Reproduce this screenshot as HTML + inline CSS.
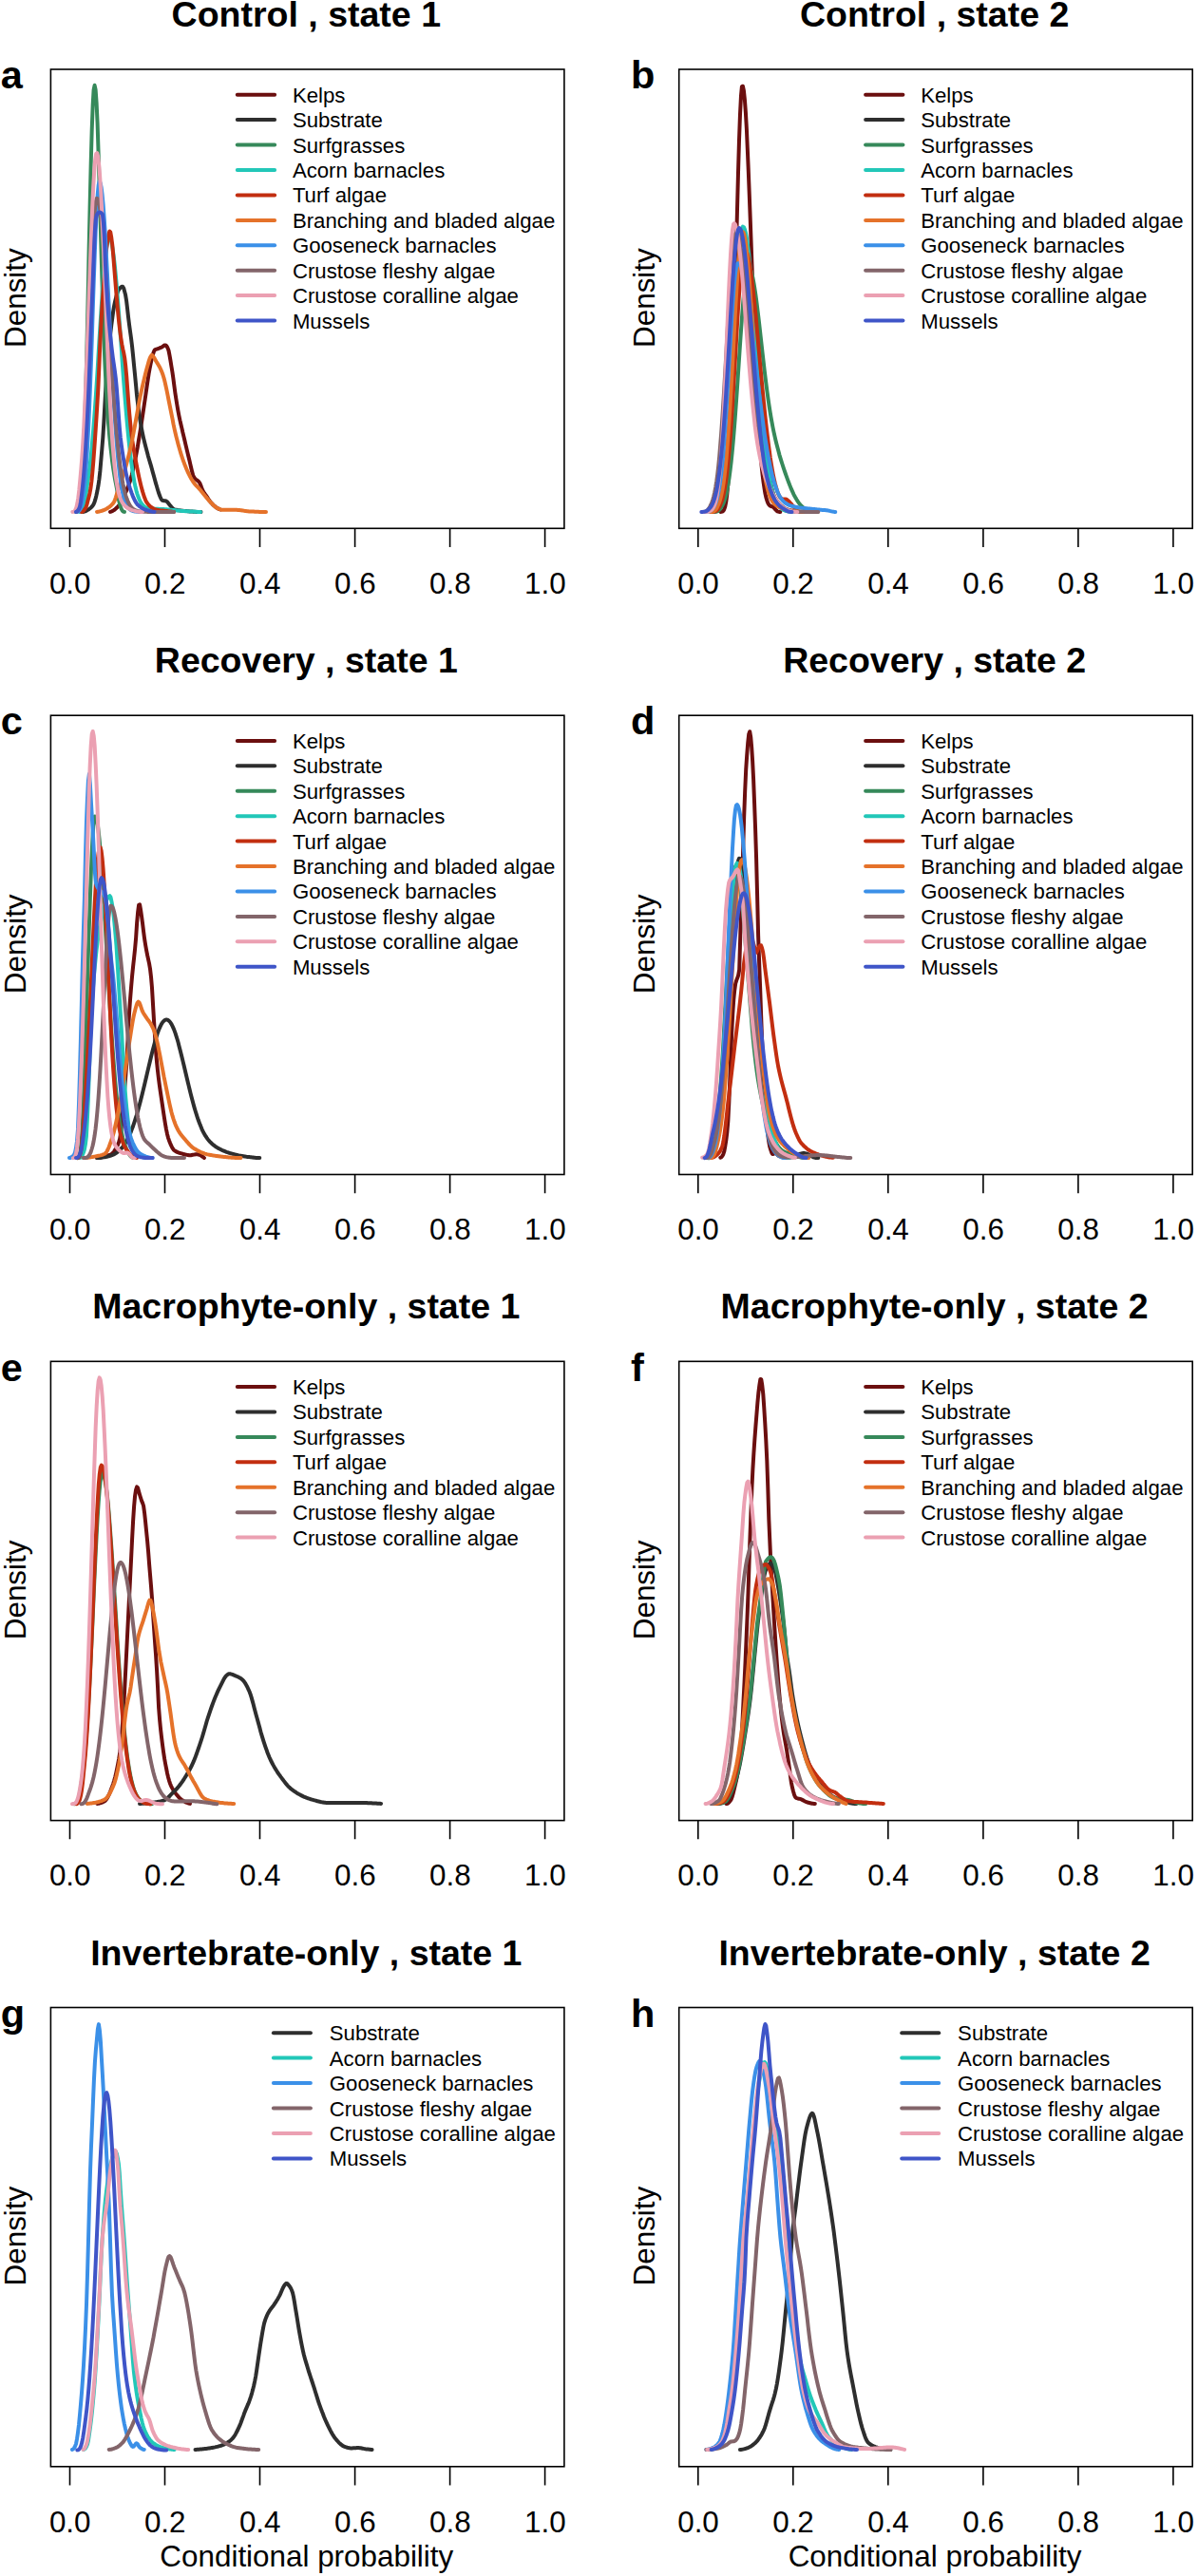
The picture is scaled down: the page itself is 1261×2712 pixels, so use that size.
<!DOCTYPE html><html><head><meta charset="utf-8"><title>Figure</title><style>html,body{margin:0;padding:0;background:#fff}svg{display:block}text{font-family:"Liberation Sans",sans-serif;fill:#000}.t{font-weight:bold;font-size:37.5px;text-anchor:middle}.p{font-weight:bold;font-size:41.5px}.a{font-size:31.4px;text-anchor:middle}.l{font-size:22.2px}.c{fill:none;stroke-width:4.0;stroke-linecap:round;stroke-linejoin:round}.k{stroke:#000;stroke-width:1.6;fill:none}</style></head><body>
<svg width="1261" height="2712" viewBox="0 0 1261 2712">
<rect width="1261" height="2712" fill="#fff"/>
<g transform="translate(0.0,0.0)">
<path class="c" stroke="#6B0F0F" d="M116.0,538.9 L117.0,538.6 L118.0,538.2 L119.0,537.6 L120.0,537.0 L121.0,536.3 L121.9,535.5 L122.9,534.6 L123.9,533.5 L124.9,532.4 L125.9,531.1 L126.9,529.6 L127.9,527.8 L128.9,525.7 L129.9,523.5 L130.9,521.3 L131.9,519.1 L132.9,516.9 L133.8,514.6 L134.8,512.2 L135.8,509.6 L136.8,506.8 L137.8,503.6 L138.8,499.8 L139.8,495.6 L140.8,491.0 L141.8,486.2 L142.8,481.4 L143.8,476.2 L144.8,470.8 L145.7,465.1 L146.7,459.2 L147.7,453.2 L148.7,446.9 L149.7,440.3 L150.7,433.5 L151.7,426.7 L152.7,420.0 L153.7,413.1 L154.7,406.1 L155.7,399.5 L156.6,393.4 L157.6,388.0 L158.6,382.9 L159.6,378.4 L160.6,374.5 L161.6,371.1 L162.6,368.7 L163.6,368.0 L164.6,367.6 L165.6,367.3 L166.6,367.0 L167.6,366.6 L168.5,366.2 L169.5,365.8 L170.5,365.4 L171.5,364.7 L172.5,363.9 L173.5,363.4 L174.5,363.4 L175.5,364.5 L176.5,366.4 L177.5,369.0 L178.5,374.1 L179.5,379.9 L180.4,385.5 L181.4,391.5 L182.4,398.5 L183.4,406.3 L184.4,413.8 L185.4,420.3 L186.4,426.5 L187.4,432.3 L188.4,437.6 L189.4,442.4 L190.4,446.7 L191.4,450.9 L192.3,455.0 L193.3,459.1 L194.3,463.3 L195.3,467.6 L196.3,471.9 L197.3,476.1 L198.3,480.2 L199.3,484.3 L200.3,488.6 L201.3,493.0 L202.3,497.1 L203.2,500.4 L204.2,502.5 L205.2,503.8 L206.2,504.7 L207.2,505.5 L208.2,506.2 L209.2,507.1 L210.2,508.4 L211.2,510.7 L212.2,513.5 L213.2,515.9 L214.2,517.7 L215.1,519.2 L216.1,520.6 L217.1,522.0 L218.1,523.4 L219.1,525.0 L220.1,526.5 L221.1,527.9 L222.1,529.2 L223.1,530.2 L224.1,531.3 L225.1,532.2 L226.1,533.0 L227.0,533.8 L228.0,534.5 L229.0,535.1 L230.0,535.6 L231.0,536.1 L232.0,536.5"/>
<path class="c" stroke="#2e2e2e" d="M87.5,538.9 L88.5,538.7 L89.5,538.4 L90.5,537.9 L91.5,537.4 L92.5,536.8 L93.5,536.2 L94.4,535.5 L95.4,534.7 L96.4,533.8 L97.4,532.6 L98.4,531.1 L99.4,528.9 L100.4,525.7 L101.4,521.7 L102.4,517.0 L103.4,511.7 L104.4,504.7 L105.4,495.7 L106.3,485.1 L107.3,473.4 L108.3,460.9 L109.3,445.2 L110.3,427.0 L111.3,409.2 L112.3,394.5 L113.3,381.7 L114.3,370.3 L115.3,359.9 L116.3,350.3 L117.3,341.9 L118.3,334.4 L119.2,327.6 L120.2,321.7 L121.2,317.0 L122.2,312.9 L123.2,309.3 L124.2,306.5 L125.2,304.7 L126.2,303.5 L127.2,302.4 L128.2,301.8 L129.2,301.7 L130.2,303.4 L131.1,306.7 L132.1,310.6 L133.1,316.8 L134.1,325.3 L135.1,334.3 L136.1,342.3 L137.1,349.5 L138.1,356.8 L139.1,365.0 L140.1,374.7 L141.1,385.1 L142.1,395.2 L143.1,405.7 L144.0,415.8 L145.0,424.5 L146.0,432.1 L147.0,439.1 L148.0,445.4 L149.0,451.1 L150.0,456.2 L151.0,460.8 L152.0,465.0 L153.0,469.0 L154.0,472.8 L155.0,476.5 L155.9,480.1 L156.9,483.5 L157.9,486.9 L158.9,490.2 L159.9,493.7 L160.9,497.4 L161.9,501.1 L162.9,504.8 L163.9,508.4 L164.9,511.8 L165.9,515.2 L166.9,518.5 L167.9,521.2 L168.8,523.5 L169.8,525.6 L170.8,526.9 L171.8,527.1 L172.8,527.2 L173.8,527.3 L174.8,527.5 L175.8,528.1 L176.8,529.3 L177.8,530.6 L178.8,531.8 L179.8,532.9 L180.7,534.1 L181.7,535.2 L182.7,535.9 L183.7,536.3 L184.7,536.6 L185.7,536.8 L186.7,537.0 L187.7,537.2 L188.7,537.3 L189.7,537.5 L190.7,537.6 L191.7,537.7 L192.7,537.8 L193.6,537.9 L194.6,538.0 L195.6,538.1 L196.6,538.1 L197.6,538.2 L198.6,538.3 L199.6,538.4 L200.6,538.5 L201.6,538.6 L202.6,538.6 L203.6,538.7 L204.6,538.8 L205.5,538.8 L206.5,538.9 L207.5,538.9 L208.5,538.9 L209.5,538.9 L210.5,538.9 L211.5,538.9"/>
<path class="c" stroke="#36895A" d="M80.0,538.9 L81.0,538.8 L82.0,538.3 L82.9,537.0 L83.9,534.0 L84.9,528.2 L85.9,518.2 L86.9,502.8 L87.8,481.5 L88.8,455.9 L89.8,426.3 L90.8,391.0 L91.8,350.4 L92.8,305.9 L93.7,259.6 L94.7,214.0 L95.7,172.1 L96.7,136.7 L97.7,110.3 L98.6,94.7 L99.6,89.8 L100.6,94.5 L101.6,108.3 L102.6,130.0 L103.5,158.1 L104.5,190.6 L105.5,226.0 L106.5,262.4 L107.5,297.3 L108.4,329.1 L109.4,357.3 L110.4,381.8 L111.4,402.8 L112.4,420.6 L113.3,435.8 L114.3,448.7 L115.3,459.9 L116.3,469.7 L117.3,478.4 L118.2,486.2 L119.2,493.2 L120.2,499.5 L121.2,505.3 L122.2,510.4 L123.2,515.7 L124.1,521.4 L125.1,526.6 L126.1,530.9 L127.1,534.2 L128.1,536.5 L129.0,537.9 L130.0,538.7 L131.0,538.9"/>
<path class="c" stroke="#22C7B8" d="M84.0,538.9 L85.0,538.6 L86.0,537.8 L87.0,536.1 L88.0,533.3 L89.0,529.3 L90.0,524.0 L90.9,517.4 L91.9,510.1 L92.9,503.1 L93.9,495.9 L94.9,487.7 L95.9,478.4 L96.9,468.0 L97.9,456.5 L98.9,444.0 L99.9,430.5 L100.9,416.2 L101.9,401.1 L102.9,385.4 L103.8,369.5 L104.8,353.4 L105.8,337.5 L106.8,322.0 L107.8,307.4 L108.8,293.8 L109.8,281.7 L110.8,271.1 L111.8,262.5 L112.8,256.1 L113.8,251.9 L114.8,250.1 L115.8,250.5 L116.7,252.8 L117.7,256.8 L118.7,262.5 L119.7,269.9 L120.7,278.6 L121.7,288.7 L122.7,299.8 L123.7,311.9 L124.7,324.8 L125.7,338.2 L126.7,351.9 L127.7,365.8 L128.6,379.6 L129.6,393.3 L130.6,406.6 L131.6,419.4 L132.6,431.7 L133.6,443.3 L134.6,454.1 L135.6,464.2 L136.6,473.5 L137.6,481.9 L138.6,489.6 L139.6,496.4 L140.6,502.5 L141.5,507.9 L142.5,512.6 L143.5,516.6 L144.5,520.1 L145.5,523.1 L146.5,525.6 L147.5,527.7 L148.5,529.4 L149.5,530.8 L150.5,532.0 L151.5,532.9 L152.5,533.7 L153.5,534.2 L154.4,534.7 L155.4,535.0 L156.4,535.2 L157.4,535.4 L158.4,535.5 L159.4,535.6 L160.4,535.7 L161.4,535.7 L162.4,535.7 L163.4,535.8 L164.4,535.8 L165.4,535.8 L166.4,535.8 L167.3,535.9 L168.3,535.9 L169.3,536.0 L170.3,536.0 L171.3,536.1 L172.3,536.1 L173.3,536.2 L174.3,536.3 L175.3,536.3 L176.3,536.4 L177.3,536.5 L178.3,536.6 L179.2,536.7 L180.2,536.8 L181.2,536.9 L182.2,537.0 L183.2,537.1 L184.2,537.2 L185.2,537.3 L186.2,537.4 L187.2,537.5 L188.2,537.6 L189.2,537.7 L190.2,537.8 L191.2,537.9 L192.1,537.9 L193.1,538.0 L194.1,538.1 L195.1,538.2 L196.1,538.2 L197.1,538.3 L198.1,538.3 L199.1,538.4 L200.1,538.5 L201.1,538.5 L202.1,538.5 L203.1,538.6 L204.1,538.6 L205.0,538.7 L206.0,538.8 L207.0,538.8 L208.0,538.9 L209.0,538.9 L210.0,538.9 L211.0,538.9"/>
<path class="c" stroke="#C22E10" d="M85.5,538.9 L86.5,538.8 L87.5,538.1 L88.5,537.0 L89.5,535.7 L90.5,534.1 L91.5,531.0 L92.5,527.1 L93.5,523.2 L94.5,519.2 L95.4,514.2 L96.4,506.8 L97.4,496.4 L98.4,484.7 L99.4,470.9 L100.4,456.4 L101.4,441.3 L102.4,425.2 L103.4,407.8 L104.4,385.1 L105.4,359.9 L106.4,340.5 L107.4,323.6 L108.4,308.8 L109.4,295.3 L110.4,281.7 L111.4,268.9 L112.4,259.6 L113.4,252.6 L114.4,246.7 L115.3,243.5 L116.3,244.5 L117.3,250.4 L118.3,258.3 L119.3,269.8 L120.3,282.7 L121.3,295.2 L122.3,307.4 L123.3,319.0 L124.3,330.1 L125.3,340.0 L126.3,348.4 L127.3,355.9 L128.3,362.4 L129.3,367.5 L130.3,371.8 L131.3,377.4 L132.3,386.1 L133.3,397.3 L134.2,409.6 L135.2,423.2 L136.2,435.1 L137.2,445.9 L138.2,455.5 L139.2,463.3 L140.2,469.8 L141.2,475.6 L142.2,481.1 L143.2,486.6 L144.2,491.9 L145.2,497.0 L146.2,501.8 L147.2,506.3 L148.2,510.5 L149.2,514.4 L150.2,517.9 L151.2,521.1 L152.2,524.1 L153.2,526.6 L154.1,528.4 L155.1,529.8 L156.1,531.1 L157.1,532.1 L158.1,533.1 L159.1,533.8 L160.1,534.5 L161.1,535.1 L162.1,535.7 L163.1,536.2 L164.1,536.5 L165.1,536.8 L166.1,537.0 L167.1,537.1 L168.1,537.3 L169.1,537.4 L170.1,537.5 L171.1,537.6 L172.1,537.7 L173.1,537.8 L174.0,537.9 L175.0,538.0 L176.0,538.1 L177.0,538.3 L178.0,538.4 L179.0,538.5 L180.0,538.6 L181.0,538.7 L182.0,538.9 L183.0,538.9"/>
<path class="c" stroke="#E5722A" d="M102.0,538.9 L103.0,538.8 L104.0,538.7 L105.0,538.4 L106.0,538.1 L107.0,537.8 L108.0,537.5 L109.0,537.2 L110.0,536.7 L110.9,536.3 L111.9,535.8 L112.9,535.2 L113.9,534.5 L114.9,533.9 L115.9,533.1 L116.9,532.2 L117.9,531.2 L118.9,530.1 L119.9,528.7 L120.9,526.6 L121.9,523.6 L122.9,520.2 L123.9,517.1 L124.9,514.2 L125.9,511.4 L126.9,508.6 L127.9,505.8 L128.8,502.8 L129.8,499.6 L130.8,496.4 L131.8,493.1 L132.8,489.6 L133.8,486.0 L134.8,482.2 L135.8,478.1 L136.8,473.9 L137.8,469.4 L138.8,464.7 L139.8,459.8 L140.8,454.5 L141.8,449.1 L142.8,443.7 L143.8,438.1 L144.8,432.5 L145.8,427.0 L146.7,421.8 L147.7,417.0 L148.7,412.3 L149.7,407.8 L150.7,403.4 L151.7,399.2 L152.7,395.0 L153.7,391.0 L154.7,387.3 L155.7,383.7 L156.7,380.1 L157.7,377.2 L158.7,375.1 L159.7,373.8 L160.7,374.4 L161.7,375.8 L162.7,377.4 L163.7,379.2 L164.6,380.8 L165.6,382.4 L166.6,384.0 L167.6,385.7 L168.6,387.7 L169.6,389.8 L170.6,392.3 L171.6,395.0 L172.6,398.3 L173.6,402.3 L174.6,406.7 L175.6,411.3 L176.6,416.3 L177.6,421.5 L178.6,426.5 L179.6,431.5 L180.6,436.5 L181.6,441.4 L182.5,446.4 L183.5,451.1 L184.5,455.5 L185.5,459.7 L186.5,463.6 L187.5,467.4 L188.5,471.0 L189.5,474.5 L190.5,477.8 L191.5,480.9 L192.5,483.8 L193.5,486.6 L194.5,489.3 L195.5,491.8 L196.5,494.2 L197.5,496.5 L198.5,498.5 L199.5,500.5 L200.4,502.4 L201.4,504.2 L202.4,505.8 L203.4,507.4 L204.4,508.7 L205.4,510.0 L206.4,511.1 L207.4,512.1 L208.4,513.1 L209.4,514.2 L210.4,515.3 L211.4,516.5 L212.4,517.8 L213.4,519.0 L214.4,520.3 L215.4,521.5 L216.4,522.7 L217.4,523.9 L218.3,525.0 L219.3,526.2 L220.3,527.3 L221.3,528.4 L222.3,529.4 L223.3,530.4 L224.3,531.4 L225.3,532.4 L226.3,533.3 L227.3,534.1 L228.3,534.6 L229.3,535.2 L230.3,535.7 L231.3,536.1 L232.3,536.5 L233.3,536.7 L234.3,536.8 L235.3,536.8 L236.2,536.8 L237.2,536.8 L238.2,536.8 L239.2,536.8 L240.2,536.8 L241.2,536.8 L242.2,536.8 L243.2,536.8 L244.2,536.8 L245.2,536.8 L246.2,536.8 L247.2,536.8 L248.2,536.8 L249.2,536.8 L250.2,536.9 L251.2,537.0 L252.2,537.1 L253.2,537.2 L254.1,537.3 L255.1,537.5 L256.1,537.6 L257.1,537.8 L258.1,537.9 L259.1,538.1 L260.1,538.2 L261.1,538.3 L262.1,538.4 L263.1,538.4 L264.1,538.5 L265.1,538.5 L266.1,538.6 L267.1,538.6 L268.1,538.7 L269.1,538.7 L270.1,538.8 L271.1,538.8 L272.0,538.8 L273.0,538.9 L274.0,538.9 L275.0,538.9 L276.0,538.9 L277.0,538.9 L278.0,538.9 L279.0,538.9 L280.0,538.9"/>
<path class="c" stroke="#3B90E8" d="M80.0,538.9 L81.0,538.8 L82.0,538.6 L83.0,538.1 L83.9,537.0 L84.9,535.0 L85.9,531.7 L86.9,526.8 L87.9,520.0 L88.9,511.9 L89.9,502.1 L90.8,489.8 L91.8,474.7 L92.8,456.5 L93.8,435.3 L94.8,411.2 L95.8,384.6 L96.8,356.0 L97.7,326.5 L98.7,297.0 L99.7,268.8 L100.7,243.3 L101.7,221.7 L102.7,205.2 L103.7,194.8 L104.6,191.0 L105.6,192.5 L106.6,197.1 L107.6,204.8 L108.6,215.4 L109.6,228.6 L110.6,244.0 L111.5,261.2 L112.5,279.9 L113.5,299.5 L114.5,319.8 L115.5,340.1 L116.5,360.3 L117.5,379.9 L118.5,398.7 L119.4,416.4 L120.4,432.8 L121.4,448.0 L122.4,461.6 L123.4,473.9 L124.4,484.7 L125.4,494.1 L126.3,502.2 L127.3,509.2 L128.3,515.0 L129.3,519.9 L130.3,523.9 L131.3,527.2 L132.3,529.8 L133.2,532.0 L134.2,533.6 L135.2,534.9 L136.2,535.9 L137.2,536.7 L138.2,537.3 L139.2,537.7 L140.1,538.1 L141.1,538.3 L142.1,538.5 L143.1,538.6 L144.1,538.7 L145.1,538.8 L146.1,538.9 L147.0,538.9 L148.0,538.9 L149.0,538.9 L150.0,538.9"/>
<path class="c" stroke="#83656A" d="M80.0,538.9 L81.0,538.4 L82.0,536.8 L83.0,533.4 L84.0,527.5 L85.0,518.3 L85.9,505.5 L86.9,489.2 L87.9,470.7 L88.9,452.3 L89.9,433.7 L90.9,413.0 L91.9,390.5 L92.9,366.7 L93.9,342.1 L94.9,317.4 L95.8,293.3 L96.8,270.9 L97.8,250.8 L98.8,233.9 L99.8,221.0 L100.8,212.5 L101.8,208.9 L102.8,209.4 L103.8,212.1 L104.8,216.7 L105.8,223.3 L106.7,231.7 L107.7,241.7 L108.7,253.2 L109.7,266.0 L110.7,279.8 L111.7,294.5 L112.7,309.8 L113.7,325.5 L114.7,341.3 L115.7,357.1 L116.6,372.7 L117.6,387.9 L118.6,402.6 L119.6,416.6 L120.6,429.9 L121.6,442.3 L122.6,453.9 L123.6,464.5 L124.6,474.2 L125.6,483.0 L126.5,490.9 L127.5,498.0 L128.5,504.2 L129.5,509.6 L130.5,514.4 L131.5,518.5 L132.5,522.0 L133.5,525.1 L134.5,527.6 L135.5,529.7 L136.5,531.5 L137.4,533.0 L138.4,534.2 L139.4,535.2 L140.4,536.0 L141.4,536.6 L142.4,537.1 L143.4,537.5 L144.4,537.8 L145.4,538.1 L146.4,538.3 L147.3,538.4 L148.3,538.6 L149.3,538.6 L150.3,538.7 L151.3,538.8 L152.3,538.8 L153.3,538.8 L154.3,538.8 L155.3,538.9 L156.3,538.9 L157.2,538.9 L158.2,538.9 L159.2,538.9 L160.2,538.9 L161.2,538.9 L162.2,538.9 L163.2,538.9 L164.2,538.9 L165.2,538.9 L166.2,538.9 L167.2,538.9 L168.1,538.9 L169.1,538.9 L170.1,538.9 L171.1,538.9 L172.1,538.9 L173.1,538.9 L174.1,538.9 L175.1,538.9 L176.1,538.9 L177.1,538.9 L178.0,538.9 L179.0,538.9 L180.0,538.9 L181.0,538.9 L182.0,538.9 L183.0,538.9"/>
<path class="c" stroke="#EBA0B2" d="M76.3,538.9 L77.3,538.7 L78.3,538.2 L79.3,536.8 L80.3,534.4 L81.3,530.3 L82.3,524.2 L83.3,515.9 L84.3,505.5 L85.3,494.3 L86.3,481.6 L87.3,466.5 L88.3,448.8 L89.2,428.5 L90.2,405.7 L91.2,380.7 L92.2,353.9 L93.2,325.9 L94.2,297.3 L95.2,269.2 L96.2,242.5 L97.2,218.1 L98.2,197.0 L99.2,180.1 L100.2,168.2 L101.2,161.8 L102.2,161.1 L103.2,165.1 L104.2,173.7 L105.2,186.3 L106.2,202.6 L107.2,222.0 L108.2,243.9 L109.2,267.6 L110.2,292.3 L111.2,317.3 L112.2,342.2 L113.2,366.2 L114.1,388.9 L115.1,410.1 L116.1,429.4 L117.1,446.6 L118.1,461.8 L119.1,475.0 L120.1,486.3 L121.1,495.8 L122.1,503.7 L123.1,510.1 L124.1,515.4 L125.1,519.7 L126.1,523.1 L127.1,525.8 L128.1,527.9 L129.1,529.7 L130.1,531.1 L131.1,532.2 L132.1,533.2 L133.1,534.0 L134.1,534.7 L135.1,535.3 L136.1,535.8 L137.1,536.3 L138.0,536.7 L139.0,537.1 L140.0,537.4 L141.0,537.6 L142.0,537.9 L143.0,538.2 L144.0,538.4 L145.0,538.6 L146.0,538.7 L147.0,538.8 L148.0,538.9 L149.0,538.9 L150.0,538.9"/>
<path class="c" stroke="#3F55C8" d="M80.0,538.9 L81.0,538.5 L82.0,537.5 L83.0,535.9 L84.0,533.6 L85.0,528.3 L86.0,520.7 L87.0,512.1 L88.0,501.8 L89.0,489.0 L90.0,474.4 L90.9,458.5 L91.9,440.3 L92.9,419.6 L93.9,396.8 L94.9,369.9 L95.9,342.0 L96.9,316.8 L97.9,292.2 L98.9,264.8 L99.9,242.9 L100.9,230.5 L101.9,226.2 L102.9,224.5 L103.9,223.7 L104.9,223.5 L105.9,223.8 L106.9,224.5 L107.9,225.6 L108.9,234.6 L109.9,250.9 L110.9,276.7 L111.8,296.3 L112.8,313.4 L113.8,327.9 L114.8,339.9 L115.8,350.3 L116.8,359.7 L117.8,368.4 L118.8,376.4 L119.8,383.3 L120.8,390.2 L121.8,398.2 L122.8,408.6 L123.8,421.9 L124.8,436.3 L125.8,449.9 L126.8,460.7 L127.8,468.4 L128.8,475.5 L129.8,482.0 L130.8,488.0 L131.7,493.5 L132.7,498.4 L133.7,502.9 L134.7,507.0 L135.7,510.5 L136.7,513.7 L137.7,516.6 L138.7,519.4 L139.7,522.0 L140.7,524.4 L141.7,526.5 L142.7,528.4 L143.7,529.9 L144.7,531.2 L145.7,532.1 L146.7,533.0 L147.7,533.7 L148.7,534.4 L149.7,535.0 L150.7,535.5 L151.7,536.0 L152.6,536.4 L153.6,536.7 L154.6,537.1 L155.6,537.4 L156.6,537.7 L157.6,538.0 L158.6,538.3 L159.6,538.5 L160.6,538.7 L161.6,538.8 L162.6,538.9"/>
<rect class="k" x="53.4" y="73" width="540.5" height="483.3"/>
<path class="k" d="M73.5,556.3V576M173.5,556.3V576M273.5,556.3V576M373.6,556.3V576M473.6,556.3V576M573.6,556.3V576"/>
<text class="a" x="73.7" y="625">0.0</text>
<text class="a" x="173.7" y="625">0.2</text>
<text class="a" x="273.7" y="625">0.4</text>
<text class="a" x="373.8" y="625">0.6</text>
<text class="a" x="473.8" y="625">0.8</text>
<text class="a" x="573.8" y="625">1.0</text>
<text class="t" x="322.3" y="28">Control , state 1</text>
<text class="p" x="0.8" y="93.3">a</text>
<text class="a" transform="translate(27.3,313.6) rotate(-90)">Density</text>
<path class="c" stroke="#6B0F0F" d="M249.8,99.7H289.1"/>
<text class="l" x="307.9" y="107.7">Kelps</text>
<path class="c" stroke="#2e2e2e" d="M249.8,126.1H289.1"/>
<text class="l" x="307.9" y="134.1">Substrate</text>
<path class="c" stroke="#36895A" d="M249.8,152.6H289.1"/>
<text class="l" x="307.9" y="160.6">Surfgrasses</text>
<path class="c" stroke="#22C7B8" d="M249.8,179.0H289.1"/>
<text class="l" x="307.9" y="187.0">Acorn barnacles</text>
<path class="c" stroke="#C22E10" d="M249.8,205.4H289.1"/>
<text class="l" x="307.9" y="213.4">Turf algae</text>
<path class="c" stroke="#E5722A" d="M249.8,231.9H289.1"/>
<text class="l" x="307.9" y="239.9">Branching and bladed algae</text>
<path class="c" stroke="#3B90E8" d="M249.8,258.3H289.1"/>
<text class="l" x="307.9" y="266.3">Gooseneck barnacles</text>
<path class="c" stroke="#83656A" d="M249.8,284.7H289.1"/>
<text class="l" x="307.9" y="292.7">Crustose fleshy algae</text>
<path class="c" stroke="#EBA0B2" d="M249.8,311.1H289.1"/>
<text class="l" x="307.9" y="319.1">Crustose coralline algae</text>
<path class="c" stroke="#3F55C8" d="M249.8,337.6H289.1"/>
<text class="l" x="307.9" y="345.6">Mussels</text>
</g>
<g transform="translate(661.3,0.0)">
<path class="c" stroke="#6B0F0F" d="M97.0,538.9 L98.0,538.8 L99.0,538.6 L100.0,537.9 L100.9,536.4 L101.9,533.5 L102.9,528.7 L103.9,521.2 L104.9,510.9 L105.9,498.2 L106.8,482.8 L107.8,463.4 L108.8,439.5 L109.8,411.1 L110.8,378.3 L111.8,341.6 L112.8,302.0 L113.7,261.0 L114.7,220.2 L115.7,181.8 L116.7,147.8 L117.7,120.3 L118.7,100.9 L119.6,91.1 L120.6,90.7 L121.6,95.5 L122.6,104.9 L123.6,118.5 L124.6,136.0 L125.5,156.7 L126.5,180.2 L127.5,205.8 L128.5,232.8 L129.5,260.5 L130.5,288.4 L131.5,315.8 L132.4,342.3 L133.4,367.5 L134.4,391.0 L135.4,412.6 L136.4,432.2 L137.4,449.7 L138.3,465.1 L139.3,478.5 L140.3,490.0 L141.3,499.7 L142.3,507.8 L143.3,514.5 L144.2,519.9 L145.2,524.2 L146.2,527.5 L147.2,529.9 L148.2,531.6 L149.2,532.5 L150.2,533.0 L151.1,533.2 L152.1,533.5 L153.1,534.3 L154.1,535.4 L155.1,536.7 L156.1,537.7 L157.0,538.4 L158.0,538.7 L159.0,538.9 L160.0,538.9"/>
<path class="c" stroke="#2e2e2e" d="M88.0,538.9 L89.0,538.9 L90.0,538.7 L91.0,538.4 L92.0,537.8 L92.9,536.7 L93.9,535.2 L94.9,533.1 L95.9,530.4 L96.9,527.3 L97.9,523.8 L98.9,519.5 L99.9,514.2 L100.9,507.8 L101.9,500.2 L102.8,491.2 L103.8,480.9 L104.8,469.1 L105.8,455.8 L106.8,441.2 L107.8,425.3 L108.8,408.2 L109.8,390.3 L110.8,371.9 L111.8,353.2 L112.7,334.8 L113.7,317.2 L114.7,300.7 L115.7,285.8 L116.7,273.1 L117.7,262.9 L118.7,255.5 L119.7,251.1 L120.7,250.0 L121.7,251.0 L122.6,253.5 L123.6,257.3 L124.6,262.6 L125.6,269.2 L126.6,276.9 L127.6,285.7 L128.6,295.5 L129.6,306.1 L130.6,317.4 L131.6,329.2 L132.5,341.5 L133.5,353.9 L134.5,366.5 L135.5,379.0 L136.5,391.4 L137.5,403.5 L138.5,415.3 L139.5,426.6 L140.5,437.4 L141.4,447.6 L142.4,457.3 L143.4,466.2 L144.4,474.6 L145.4,482.2 L146.4,489.2 L147.4,495.6 L148.4,501.4 L149.4,506.5 L150.4,511.1 L151.3,515.1 L152.3,518.7 L153.3,521.8 L154.3,524.6 L155.3,526.9 L156.3,528.9 L157.3,530.6 L158.3,532.1 L159.3,533.3 L160.3,534.3 L161.2,535.2 L162.2,535.9 L163.2,536.5 L164.2,537.0 L165.2,537.4 L166.2,537.7 L167.2,538.0 L168.2,538.2 L169.2,538.3 L170.2,538.5 L171.1,538.6 L172.1,538.6 L173.1,538.7 L174.1,538.7 L175.1,538.8 L176.1,538.8 L177.1,538.8 L178.1,538.9 L179.1,538.9 L180.1,538.9 L181.0,538.9 L182.0,538.9 L183.0,538.9 L184.0,538.9 L185.0,538.9"/>
<path class="c" stroke="#36895A" d="M90.4,538.9 L91.4,538.9 L92.4,538.8 L93.4,538.5 L94.4,538.1 L95.4,537.4 L96.4,536.4 L97.4,535.0 L98.4,533.3 L99.4,531.5 L100.4,529.3 L101.4,526.6 L102.4,523.4 L103.4,519.4 L104.3,514.7 L105.3,509.1 L106.3,502.6 L107.3,495.1 L108.3,486.5 L109.3,476.8 L110.3,466.1 L111.3,454.3 L112.3,441.5 L113.3,427.9 L114.3,413.5 L115.3,398.7 L116.3,383.5 L117.3,368.4 L118.3,353.5 L119.3,339.3 L120.3,326.0 L121.3,314.0 L122.3,303.5 L123.3,294.8 L124.3,288.2 L125.3,283.9 L126.3,281.9 L127.3,281.9 L128.3,283.0 L129.3,285.3 L130.3,288.7 L131.2,293.0 L132.2,298.3 L133.2,304.5 L134.2,311.3 L135.2,318.8 L136.2,326.9 L137.2,335.3 L138.2,344.1 L139.2,353.0 L140.2,362.0 L141.2,370.9 L142.2,379.8 L143.2,388.4 L144.2,396.8 L145.2,404.8 L146.2,412.5 L147.2,419.8 L148.2,426.6 L149.2,433.1 L150.2,439.1 L151.2,444.7 L152.2,450.0 L153.2,454.9 L154.2,459.4 L155.2,463.7 L156.2,467.8 L157.2,471.6 L158.2,475.3 L159.1,478.8 L160.1,482.1 L161.1,485.4 L162.1,488.5 L163.1,491.6 L164.1,494.6 L165.1,497.5 L166.1,500.4 L167.1,503.2 L168.1,505.9 L169.1,508.5 L170.1,511.1 L171.1,513.6 L172.1,515.9 L173.1,518.1 L174.1,520.3 L175.1,522.3 L176.1,524.1 L177.1,525.8 L178.1,527.4 L179.1,528.9 L180.1,530.2 L181.1,531.4 L182.1,532.5 L183.1,533.4 L184.1,534.2 L185.1,535.0 L186.0,535.6 L187.0,536.2 L188.0,536.6 L189.0,537.0 L190.0,537.4 L191.0,537.7 L192.0,538.0 L193.0,538.3 L194.0,538.5 L195.0,538.7 L196.0,538.8 L197.0,538.9 L198.0,538.9 L199.0,538.9"/>
<path class="c" stroke="#22C7B8" d="M87.0,538.9 L88.0,538.9 L89.0,538.8 L90.0,538.7 L91.0,538.4 L91.9,537.8 L92.9,537.0 L93.9,535.8 L94.9,534.2 L95.9,532.4 L96.9,530.1 L97.9,527.2 L98.9,523.5 L99.9,518.8 L100.9,513.2 L101.8,506.2 L102.8,498.0 L103.8,488.3 L104.8,477.0 L105.8,464.0 L106.8,449.5 L107.8,433.5 L108.8,416.1 L109.8,397.5 L110.7,378.0 L111.7,358.1 L112.7,338.1 L113.7,318.7 L114.7,300.2 L115.7,283.3 L116.7,268.5 L117.7,256.2 L118.7,247.0 L119.6,241.0 L120.6,238.6 L121.6,239.2 L122.6,241.3 L123.6,245.0 L124.6,250.2 L125.6,256.9 L126.6,264.9 L127.6,274.0 L128.6,284.3 L129.5,295.4 L130.5,307.3 L131.5,319.8 L132.5,332.8 L133.5,346.0 L134.5,359.3 L135.5,372.6 L136.5,385.8 L137.5,398.6 L138.4,411.1 L139.4,423.1 L140.4,434.5 L141.4,445.3 L142.4,455.4 L143.4,464.9 L144.4,473.6 L145.4,481.6 L146.4,488.9 L147.4,495.5 L148.3,501.4 L149.3,506.7 L150.3,511.4 L151.3,515.5 L152.3,519.2 L153.3,522.3 L154.3,525.0 L155.3,527.4 L156.3,529.4 L157.2,531.0 L158.2,532.5 L159.2,533.7 L160.2,534.7 L161.2,535.5 L162.2,536.2 L163.2,536.7 L164.2,537.2 L165.2,537.5 L166.1,537.8 L167.1,538.1 L168.1,538.3 L169.1,538.4 L170.1,538.5 L171.1,538.6 L172.1,538.7 L173.1,538.8 L174.1,538.8 L175.1,538.8 L176.0,538.9 L177.0,538.9 L178.0,538.9 L179.0,538.9 L180.0,538.9"/>
<path class="c" stroke="#C22E10" d="M88.0,538.9 L89.0,538.9 L90.0,538.8 L91.0,538.6 L92.0,538.2 L93.0,537.6 L94.0,536.6 L94.9,535.2 L95.9,533.5 L96.9,531.5 L97.9,529.1 L98.9,526.2 L99.9,522.5 L100.9,518.0 L101.9,512.5 L102.9,506.0 L103.9,498.3 L104.9,489.4 L105.9,479.1 L106.9,467.5 L107.9,454.5 L108.8,440.3 L109.8,425.0 L110.8,408.7 L111.8,391.7 L112.8,374.2 L113.8,356.7 L114.8,339.5 L115.8,323.1 L116.8,307.8 L117.8,294.2 L118.8,282.5 L119.8,273.2 L120.8,266.6 L121.7,262.9 L122.7,262.0 L123.7,262.9 L124.7,265.0 L125.7,268.1 L126.7,272.4 L127.7,277.8 L128.7,284.1 L129.7,291.3 L130.7,299.4 L131.7,308.1 L132.7,317.5 L133.7,327.4 L134.7,337.8 L135.6,348.4 L136.6,359.2 L137.6,370.2 L138.6,381.2 L139.6,392.0 L140.6,402.7 L141.6,413.2 L142.6,423.3 L143.6,433.1 L144.6,442.5 L145.6,451.4 L146.6,459.8 L147.6,467.7 L148.6,475.1 L149.5,482.0 L150.5,488.4 L151.5,494.2 L152.5,499.5 L153.5,504.3 L154.5,508.7 L155.5,512.5 L156.5,515.9 L157.5,518.8 L158.5,521.2 L159.5,523.0 L160.5,524.3 L161.5,525.1 L162.4,525.4 L163.4,525.5 L164.4,525.4 L165.4,525.4 L166.4,525.7 L167.4,526.4 L168.4,527.2 L169.4,528.2 L170.4,529.3 L171.4,530.4 L172.4,531.6 L173.4,532.7 L174.4,534.0 L175.4,535.3 L176.3,536.5 L177.3,537.4 L178.3,538.1 L179.3,538.5 L180.3,538.8 L181.3,538.9 L182.3,538.9"/>
<path class="c" stroke="#E5722A" d="M86.3,538.9 L87.3,538.9 L88.3,538.8 L89.3,538.5 L90.3,538.1 L91.3,537.3 L92.3,536.2 L93.3,534.6 L94.3,532.5 L95.3,530.2 L96.3,527.5 L97.3,524.1 L98.3,519.8 L99.3,514.7 L100.3,508.4 L101.3,501.0 L102.3,492.3 L103.3,482.2 L104.2,470.6 L105.2,457.7 L106.2,443.3 L107.2,427.6 L108.2,410.7 L109.2,392.9 L110.2,374.5 L111.2,355.7 L112.2,337.1 L113.2,319.0 L114.2,301.9 L115.2,286.3 L116.2,272.5 L117.2,261.2 L118.2,252.5 L119.2,246.7 L120.2,244.1 L121.2,244.6 L122.2,247.4 L123.2,252.4 L124.2,259.6 L125.2,268.7 L126.2,279.6 L127.2,292.0 L128.2,305.6 L129.2,320.3 L130.2,335.6 L131.2,351.3 L132.2,367.1 L133.2,382.7 L134.2,398.0 L135.2,412.8 L136.2,426.8 L137.2,439.9 L138.2,452.0 L139.1,463.2 L140.1,473.2 L141.1,482.2 L142.1,490.2 L143.1,497.2 L144.1,503.2 L145.1,508.5 L146.1,512.9 L147.1,516.7 L148.1,519.9 L149.1,522.7 L150.1,525.0 L151.1,526.9 L152.1,528.5 L153.1,529.8 L154.1,530.8 L155.1,531.7 L156.1,532.5 L157.1,533.1 L158.1,533.6 L159.1,534.1 L160.1,534.5 L161.1,534.8 L162.1,535.2 L163.1,535.5 L164.1,535.7 L165.1,536.0 L166.1,536.2 L167.1,536.5 L168.1,536.7 L169.1,536.9 L170.1,537.1 L171.1,537.3 L172.1,537.4 L173.0,537.6 L174.0,537.8 L175.0,537.9 L176.0,538.0 L177.0,538.1 L178.0,538.2 L179.0,538.3 L180.0,538.4 L181.0,538.5 L182.0,538.5 L183.0,538.6 L184.0,538.7 L185.0,538.8 L186.0,538.8 L187.0,538.9 L188.0,538.9 L189.0,538.9 L190.0,538.9"/>
<path class="c" stroke="#3B90E8" d="M80.0,538.9 L81.0,538.9 L82.0,538.9 L83.0,538.8 L84.0,538.6 L85.0,538.4 L86.0,537.9 L86.9,537.3 L87.9,536.4 L88.9,535.3 L89.9,534.0 L90.9,532.2 L91.9,529.9 L92.9,527.0 L93.9,523.4 L94.9,518.9 L95.9,513.3 L96.9,506.7 L97.9,498.7 L98.9,489.5 L99.9,478.8 L100.8,466.7 L101.8,453.3 L102.8,438.5 L103.8,422.7 L104.8,405.9 L105.8,388.6 L106.8,371.1 L107.8,353.9 L108.8,337.3 L109.8,321.8 L110.8,308.1 L111.8,296.4 L112.8,287.2 L113.8,280.8 L114.7,277.5 L115.7,277.1 L116.7,277.8 L117.7,279.2 L118.7,281.4 L119.7,284.3 L120.7,287.9 L121.7,292.2 L122.7,297.1 L123.7,302.6 L124.7,308.6 L125.7,315.1 L126.7,322.0 L127.7,329.3 L128.6,337.0 L129.6,345.0 L130.6,353.1 L131.6,361.5 L132.6,369.9 L133.6,378.4 L134.6,387.0 L135.6,395.4 L136.6,403.8 L137.6,412.1 L138.6,420.2 L139.6,428.1 L140.6,435.8 L141.6,443.2 L142.5,450.3 L143.5,457.2 L144.5,463.7 L145.5,469.9 L146.5,475.8 L147.5,481.3 L148.5,486.5 L149.5,491.3 L150.5,495.8 L151.5,500.0 L152.5,503.8 L153.5,507.3 L154.5,510.5 L155.5,513.5 L156.4,516.1 L157.4,518.5 L158.4,520.6 L159.4,522.5 L160.4,524.1 L161.4,525.6 L162.4,526.8 L163.4,527.9 L164.4,528.9 L165.4,529.7 L166.4,530.3 L167.4,530.9 L168.4,531.4 L169.4,531.8 L170.3,532.2 L171.3,532.5 L172.3,532.8 L173.3,533.0 L174.3,533.3 L175.3,533.5 L176.3,533.8 L177.3,534.0 L178.3,534.1 L179.3,534.3 L180.3,534.4 L181.3,534.6 L182.3,534.7 L183.3,534.8 L184.2,534.9 L185.2,535.0 L186.2,535.1 L187.2,535.2 L188.2,535.3 L189.2,535.4 L190.2,535.5 L191.2,535.6 L192.2,535.7 L193.2,535.8 L194.2,535.9 L195.2,536.0 L196.2,536.1 L197.2,536.2 L198.1,536.3 L199.1,536.4 L200.1,536.5 L201.1,536.6 L202.1,536.7 L203.1,536.8 L204.1,536.9 L205.1,537.0 L206.1,537.1 L207.1,537.1 L208.1,537.2 L209.1,537.3 L210.1,537.4 L211.1,537.6 L212.0,537.9 L213.0,538.1 L214.0,538.4 L215.0,538.6 L216.0,538.7 L217.0,538.9 L218.0,538.9"/>
<path class="c" stroke="#83656A" d="M78.0,538.9 L79.0,538.9 L80.0,538.8 L81.0,538.6 L82.0,538.2 L83.0,537.5 L84.0,536.5 L84.9,535.2 L85.9,533.4 L86.9,531.5 L87.9,529.2 L88.9,526.3 L89.9,522.7 L90.9,518.4 L91.9,513.1 L92.9,506.8 L93.9,499.4 L94.9,490.7 L95.9,480.8 L96.8,469.5 L97.8,457.0 L98.8,443.1 L99.8,427.9 L100.8,411.8 L101.8,394.7 L102.8,377.0 L103.8,359.0 L104.8,341.1 L105.8,323.5 L106.8,306.8 L107.8,291.4 L108.7,277.6 L109.7,265.9 L110.7,256.5 L111.7,249.8 L112.7,245.9 L113.7,245.0 L114.7,246.0 L115.7,248.4 L116.7,252.2 L117.7,257.3 L118.7,263.6 L119.7,271.1 L120.7,279.6 L121.6,289.1 L122.6,299.3 L123.6,310.1 L124.6,321.5 L125.6,333.2 L126.6,345.1 L127.6,357.1 L128.6,369.1 L129.6,380.8 L130.6,392.3 L131.6,403.4 L132.6,414.0 L133.5,424.2 L134.5,433.7 L135.5,442.6 L136.5,450.9 L137.5,458.6 L138.5,465.7 L139.5,472.3 L140.5,478.3 L141.5,483.7 L142.5,488.8 L143.5,493.4 L144.5,497.6 L145.4,501.5 L146.4,505.1 L147.4,508.3 L148.4,511.2 L149.4,513.8 L150.4,516.2 L151.4,518.4 L152.4,520.4 L153.4,522.2 L154.4,523.9 L155.4,525.5 L156.4,526.9 L157.3,528.2 L158.3,529.3 L159.3,530.4 L160.3,531.4 L161.3,532.3 L162.3,533.2 L163.3,533.9 L164.3,534.6 L165.3,535.2 L166.3,535.7 L167.3,536.2 L168.3,536.6 L169.3,537.0 L170.2,537.3 L171.2,537.5 L172.2,537.8 L173.2,538.0 L174.2,538.1 L175.2,538.3 L176.2,538.4 L177.2,538.5 L178.2,538.6 L179.2,538.7 L180.2,538.7 L181.2,538.7 L182.1,538.8 L183.1,538.8 L184.1,538.8 L185.1,538.8 L186.1,538.9 L187.1,538.9 L188.1,538.9 L189.1,538.9 L190.1,538.9 L191.1,538.9 L192.1,538.9 L193.1,538.9 L194.0,538.9 L195.0,538.9 L196.0,538.9 L197.0,538.9 L198.0,538.9 L199.0,538.9 L200.0,538.9"/>
<path class="c" stroke="#EBA0B2" d="M78.0,538.9 L79.0,538.9 L80.0,538.9 L81.0,538.9 L82.0,538.8 L83.0,538.8 L83.9,538.6 L84.9,538.3 L85.9,537.9 L86.9,537.4 L87.9,536.6 L88.9,535.4 L89.9,533.8 L90.9,531.5 L91.9,528.3 L92.9,524.1 L93.8,518.7 L94.8,511.6 L95.8,502.8 L96.8,491.9 L97.8,478.7 L98.8,463.3 L99.8,445.4 L100.8,425.4 L101.8,403.5 L102.8,380.2 L103.7,356.0 L104.7,331.8 L105.7,308.4 L106.7,286.8 L107.7,268.0 L108.7,252.8 L109.7,242.0 L110.7,236.0 L111.7,235.1 L112.7,236.5 L113.6,239.5 L114.6,244.1 L115.6,250.2 L116.6,257.7 L117.6,266.4 L118.6,276.3 L119.6,287.1 L120.6,298.7 L121.6,311.0 L122.6,323.7 L123.5,336.6 L124.5,349.6 L125.5,362.6 L126.5,375.3 L127.5,387.6 L128.5,399.5 L129.5,410.8 L130.5,421.4 L131.5,431.3 L132.5,440.4 L133.4,448.8 L134.4,456.5 L135.4,463.4 L136.4,469.6 L137.4,475.2 L138.4,480.3 L139.4,484.8 L140.4,489.0 L141.4,492.7 L142.4,496.2 L143.3,499.5 L144.3,502.5 L145.3,505.3 L146.3,507.9 L147.3,510.3 L148.3,512.6 L149.3,514.7 L150.3,516.8 L151.3,518.8 L152.3,520.6 L153.2,522.4 L154.2,524.1 L155.2,525.6 L156.2,527.1 L157.2,528.5 L158.2,529.8 L159.2,530.9 L160.2,532.0 L161.2,533.0 L162.2,533.8 L163.1,534.6 L164.1,535.3 L165.1,535.9 L166.1,536.4 L167.1,536.9 L168.1,537.2 L169.1,537.6 L170.1,537.8 L171.1,538.1 L172.1,538.4 L173.0,538.6 L174.0,538.7 L175.0,538.8 L176.0,538.9 L177.0,538.9 L178.0,538.9"/>
<path class="c" stroke="#3F55C8" d="M77.0,538.9 L78.0,538.9 L79.0,538.8 L80.0,538.7 L81.0,538.5 L82.0,538.2 L83.0,537.6 L83.9,536.9 L84.9,536.0 L85.9,534.9 L86.9,533.7 L87.9,532.1 L88.9,530.1 L89.9,527.7 L90.9,524.7 L91.9,521.0 L92.9,516.6 L93.9,511.4 L94.8,505.3 L95.8,498.1 L96.8,489.9 L97.8,480.5 L98.8,469.9 L99.8,458.2 L100.8,445.3 L101.8,431.3 L102.8,416.3 L103.8,400.4 L104.8,383.9 L105.8,367.0 L106.8,349.8 L107.7,332.9 L108.7,316.4 L109.7,300.7 L110.7,286.2 L111.7,273.2 L112.7,261.9 L113.7,252.8 L114.7,246.0 L115.7,241.7 L116.7,240.0 L117.7,240.6 L118.7,242.7 L119.6,246.4 L120.6,251.5 L121.6,258.0 L122.6,265.7 L123.6,274.7 L124.6,284.7 L125.6,295.6 L126.6,307.2 L127.6,319.4 L128.6,332.0 L129.6,344.9 L130.5,358.0 L131.5,370.9 L132.5,383.8 L133.5,396.3 L134.5,408.4 L135.5,420.1 L136.5,431.2 L137.5,441.6 L138.5,451.3 L139.5,460.4 L140.5,468.7 L141.5,476.3 L142.4,483.3 L143.4,489.5 L144.4,495.1 L145.4,500.1 L146.4,504.6 L147.4,508.6 L148.4,512.1 L149.4,515.3 L150.4,518.1 L151.4,520.6 L152.4,522.8 L153.4,524.7 L154.3,526.5 L155.3,528.0 L156.3,529.3 L157.3,530.5 L158.3,531.6 L159.3,532.6 L160.3,533.4 L161.3,534.2 L162.3,534.9 L163.3,535.5 L164.3,536.1 L165.3,536.7 L166.2,537.3 L167.2,537.9 L168.2,538.3 L169.2,538.6 L170.2,538.8 L171.2,538.9 L172.2,538.9"/>
<rect class="k" x="53.4" y="73" width="540.5" height="483.3"/>
<path class="k" d="M73.5,556.3V576M173.5,556.3V576M273.5,556.3V576M373.6,556.3V576M473.6,556.3V576M573.6,556.3V576"/>
<text class="a" x="73.7" y="625">0.0</text>
<text class="a" x="173.7" y="625">0.2</text>
<text class="a" x="273.7" y="625">0.4</text>
<text class="a" x="373.8" y="625">0.6</text>
<text class="a" x="473.8" y="625">0.8</text>
<text class="a" x="573.8" y="625">1.0</text>
<text class="t" x="322.3" y="28">Control , state 2</text>
<text class="p" x="2.8" y="93.3">b</text>
<text class="a" transform="translate(27.3,313.6) rotate(-90)">Density</text>
<path class="c" stroke="#6B0F0F" d="M249.8,99.7H289.1"/>
<text class="l" x="307.9" y="107.7">Kelps</text>
<path class="c" stroke="#2e2e2e" d="M249.8,126.1H289.1"/>
<text class="l" x="307.9" y="134.1">Substrate</text>
<path class="c" stroke="#36895A" d="M249.8,152.6H289.1"/>
<text class="l" x="307.9" y="160.6">Surfgrasses</text>
<path class="c" stroke="#22C7B8" d="M249.8,179.0H289.1"/>
<text class="l" x="307.9" y="187.0">Acorn barnacles</text>
<path class="c" stroke="#C22E10" d="M249.8,205.4H289.1"/>
<text class="l" x="307.9" y="213.4">Turf algae</text>
<path class="c" stroke="#E5722A" d="M249.8,231.9H289.1"/>
<text class="l" x="307.9" y="239.9">Branching and bladed algae</text>
<path class="c" stroke="#3B90E8" d="M249.8,258.3H289.1"/>
<text class="l" x="307.9" y="266.3">Gooseneck barnacles</text>
<path class="c" stroke="#83656A" d="M249.8,284.7H289.1"/>
<text class="l" x="307.9" y="292.7">Crustose fleshy algae</text>
<path class="c" stroke="#EBA0B2" d="M249.8,311.1H289.1"/>
<text class="l" x="307.9" y="319.1">Crustose coralline algae</text>
<path class="c" stroke="#3F55C8" d="M249.8,337.6H289.1"/>
<text class="l" x="307.9" y="345.6">Mussels</text>
</g>
<g transform="translate(0.0,680.2)">
<path class="c" stroke="#6B0F0F" d="M102.2,538.8 L103.2,538.6 L104.2,538.4 L105.2,538.1 L106.2,537.9 L107.2,537.7 L108.2,537.4 L109.2,537.2 L110.2,537.0 L111.2,536.7 L112.2,536.5 L113.2,536.3 L114.2,536.1 L115.2,535.8 L116.2,535.5 L117.2,535.0 L118.2,534.3 L119.2,533.2 L120.2,531.9 L121.1,530.4 L122.1,528.8 L123.1,527.0 L124.1,524.9 L125.1,522.2 L126.1,518.8 L127.1,512.6 L128.1,502.8 L129.1,491.0 L130.1,478.8 L131.1,467.2 L132.1,454.9 L133.1,440.9 L134.1,423.5 L135.1,402.3 L136.1,385.3 L137.1,371.2 L138.1,358.6 L139.1,347.2 L140.1,337.3 L141.1,328.2 L142.1,318.7 L143.1,307.4 L144.1,292.0 L145.1,280.4 L146.1,272.6 L147.1,272.1 L148.1,278.0 L149.1,284.8 L150.1,292.4 L151.1,300.6 L152.1,308.2 L153.1,314.5 L154.1,320.1 L155.1,325.3 L156.1,329.9 L157.1,334.5 L158.1,340.5 L159.0,348.2 L160.0,359.9 L161.0,376.9 L162.0,393.9 L163.0,410.0 L164.0,425.4 L165.0,437.5 L166.0,447.1 L167.0,455.6 L168.0,463.2 L169.0,470.2 L170.0,476.9 L171.0,483.7 L172.0,490.5 L173.0,497.1 L174.0,503.3 L175.0,508.9 L176.0,513.7 L177.0,517.6 L178.0,520.5 L179.0,523.1 L180.0,525.5 L181.0,527.5 L182.0,529.2 L183.0,530.5 L184.0,531.3 L185.0,531.9 L186.0,532.4 L187.0,532.9 L188.0,533.3 L189.0,533.6 L190.0,533.9 L191.0,534.2 L192.0,534.5 L193.0,534.8 L194.0,535.0 L195.0,535.3 L196.0,535.5 L196.9,535.7 L197.9,535.9 L198.9,536.0 L199.9,536.0 L200.9,536.0 L201.9,535.8 L202.9,535.6 L203.9,535.4 L204.9,535.2 L205.9,535.1 L206.9,535.0 L207.9,535.1 L208.9,535.3 L209.9,535.6 L210.9,536.1 L211.9,536.6 L212.9,537.3 L213.9,538.0 L214.9,538.8"/>
<path class="c" stroke="#2e2e2e" d="M102.0,538.9 L103.0,538.9 L104.0,538.8 L105.0,538.8 L106.0,538.7 L107.0,538.6 L108.0,538.4 L109.0,538.2 L110.0,538.0 L111.0,537.8 L112.0,537.7 L113.0,537.5 L114.0,537.2 L114.9,537.0 L115.9,536.7 L116.9,536.3 L117.9,536.0 L118.9,535.5 L119.9,535.1 L120.9,534.5 L121.9,533.9 L122.9,533.3 L123.9,532.5 L124.9,531.7 L125.9,530.8 L126.9,529.8 L127.9,528.7 L128.9,527.5 L129.9,526.2 L130.9,524.8 L131.9,523.3 L132.9,521.6 L133.9,519.8 L134.9,517.9 L135.9,515.8 L136.9,513.6 L137.9,511.2 L138.8,508.7 L139.8,506.0 L140.8,503.2 L141.8,500.2 L142.8,497.0 L143.8,493.8 L144.8,490.3 L145.8,486.8 L146.8,483.1 L147.8,479.3 L148.8,475.3 L149.8,471.3 L150.8,467.2 L151.8,463.0 L152.8,458.8 L153.8,454.5 L154.8,450.2 L155.8,445.9 L156.8,441.7 L157.8,437.5 L158.8,433.3 L159.8,429.2 L160.8,425.3 L161.8,421.5 L162.8,417.8 L163.7,414.3 L164.7,411.1 L165.7,408.0 L166.7,405.2 L167.7,402.6 L168.7,400.4 L169.7,398.4 L170.7,396.7 L171.7,395.4 L172.7,394.4 L173.7,393.7 L174.7,393.3 L175.7,393.3 L176.7,393.7 L177.7,394.4 L178.7,395.4 L179.7,396.7 L180.7,398.4 L181.7,400.4 L182.7,402.6 L183.7,405.2 L184.7,408.0 L185.7,411.1 L186.7,414.3 L187.7,417.8 L188.6,421.5 L189.6,425.3 L190.6,429.2 L191.6,433.3 L192.6,437.4 L193.6,441.6 L194.6,445.8 L195.6,450.1 L196.6,454.3 L197.6,458.5 L198.6,462.7 L199.6,466.8 L200.6,470.9 L201.6,474.8 L202.6,478.6 L203.6,482.3 L204.6,485.9 L205.6,489.3 L206.6,492.5 L207.6,495.6 L208.6,498.6 L209.6,501.3 L210.6,503.9 L211.6,506.3 L212.5,508.6 L213.5,510.7 L214.5,512.6 L215.5,514.4 L216.5,516.0 L217.5,517.5 L218.5,518.9 L219.5,520.2 L220.5,521.3 L221.5,522.4 L222.5,523.3 L223.5,524.2 L224.5,525.1 L225.5,525.8 L226.5,526.6 L227.5,527.3 L228.5,527.9 L229.5,528.5 L230.5,529.1 L231.5,529.6 L232.5,530.1 L233.5,530.6 L234.5,531.0 L235.5,531.5 L236.5,531.8 L237.4,532.2 L238.4,532.6 L239.4,532.9 L240.4,533.3 L241.4,533.6 L242.4,533.9 L243.4,534.2 L244.4,534.5 L245.4,534.7 L246.4,535.0 L247.4,535.2 L248.4,535.5 L249.4,535.7 L250.4,536.0 L251.4,536.2 L252.4,536.4 L253.4,536.6 L254.4,536.8 L255.4,536.9 L256.4,537.1 L257.4,537.3 L258.4,537.4 L259.4,537.6 L260.4,537.7 L261.3,537.8 L262.3,537.9 L263.3,538.0 L264.3,538.1 L265.3,538.2 L266.3,538.3 L267.3,538.5 L268.3,538.6 L269.3,538.7 L270.3,538.8 L271.3,538.9 L272.3,538.9 L273.3,538.9"/>
<path class="c" stroke="#36895A" d="M82.0,538.9 L83.0,538.0 L84.0,535.1 L85.0,528.9 L85.9,518.1 L86.9,501.3 L87.9,478.1 L88.9,449.0 L89.9,416.6 L90.9,385.7 L91.8,356.6 L92.8,326.2 L93.8,295.7 L94.8,266.2 L95.8,239.0 L96.8,215.7 L97.7,197.3 L98.7,185.0 L99.7,179.3 L100.7,179.6 L101.7,182.3 L102.7,187.3 L103.6,194.4 L104.6,203.5 L105.6,214.5 L106.6,227.1 L107.6,241.2 L108.6,256.4 L109.5,272.5 L110.5,289.3 L111.5,306.6 L112.5,324.0 L113.5,341.4 L114.5,358.6 L115.4,375.3 L116.4,391.4 L117.4,406.7 L118.4,421.3 L119.4,434.8 L120.4,447.5 L121.3,459.0 L122.3,469.6 L123.3,479.2 L124.3,487.7 L125.3,495.3 L126.3,502.1 L127.2,507.9 L128.2,513.1 L129.2,517.5 L130.2,521.2 L131.2,524.4 L132.2,527.1 L133.1,529.4 L134.1,531.5 L135.1,533.5 L136.1,535.2 L137.1,536.6 L138.1,537.6 L139.0,538.2 L140.0,538.6 L141.0,538.8 L142.0,538.9"/>
<path class="c" stroke="#22C7B8" d="M84.0,538.8 L85.0,538.4 L86.0,537.1 L87.0,535.3 L87.9,533.1 L88.9,529.9 L89.9,524.5 L90.9,516.4 L91.9,498.2 L92.9,475.1 L93.9,448.3 L94.8,419.0 L95.8,394.6 L96.8,377.0 L97.8,361.7 L98.8,348.5 L99.8,337.3 L100.8,327.6 L101.7,318.9 L102.7,310.9 L103.7,303.7 L104.7,297.3 L105.7,291.6 L106.7,286.6 L107.7,281.8 L108.6,277.5 L109.6,273.8 L110.6,270.9 L111.6,268.7 L112.6,266.6 L113.6,264.8 L114.6,263.5 L115.5,262.9 L116.5,264.4 L117.5,269.1 L118.5,275.0 L119.5,282.4 L120.5,292.1 L121.5,303.4 L122.5,315.5 L123.4,329.9 L124.4,346.0 L125.4,362.9 L126.4,379.9 L127.4,396.2 L128.4,413.1 L129.4,430.7 L130.3,447.7 L131.3,463.1 L132.3,475.8 L133.3,486.2 L134.3,495.9 L135.3,504.6 L136.3,511.8 L137.2,517.1 L138.2,520.6 L139.2,523.5 L140.2,526.1 L141.2,528.4 L142.2,530.3 L143.2,531.9 L144.1,533.1 L145.1,534.1 L146.1,534.9 L147.1,535.7 L148.1,536.5 L149.1,537.1 L150.1,537.7 L151.0,538.2 L152.0,538.5 L153.0,538.7 L154.0,538.8"/>
<path class="c" stroke="#C22E10" d="M82.0,538.9 L83.0,538.3 L84.0,536.4 L85.0,532.6 L85.9,526.2 L86.9,516.7 L87.9,504.0 L88.9,488.2 L89.9,470.7 L90.9,453.8 L91.8,437.3 L92.8,419.1 L93.8,399.4 L94.8,378.5 L95.8,356.7 L96.8,334.5 L97.7,312.5 L98.7,291.3 L99.7,271.4 L100.7,253.5 L101.7,238.2 L102.7,226.0 L103.7,217.4 L104.6,212.6 L105.6,211.9 L106.6,215.4 L107.6,223.2 L108.6,234.8 L109.6,249.8 L110.5,267.7 L111.5,287.7 L112.5,309.1 L113.5,331.3 L114.5,353.6 L115.5,375.4 L116.4,396.0 L117.4,415.3 L118.4,432.8 L119.4,448.4 L120.4,462.2 L121.4,474.1 L122.3,484.2 L123.3,492.9 L124.3,500.2 L125.3,506.4 L126.3,511.5 L127.3,515.8 L128.3,519.3 L129.2,522.3 L130.2,524.8 L131.2,526.9 L132.2,528.7 L133.2,530.3 L134.2,531.6 L135.1,532.8 L136.1,534.0 L137.1,535.3 L138.1,536.4 L139.1,537.3 L140.1,538.0 L141.0,538.4 L142.0,538.7 L143.0,538.9 L144.0,538.9"/>
<path class="c" stroke="#E5722A" d="M89.6,538.8 L90.6,538.7 L91.6,538.6 L92.6,538.5 L93.6,538.4 L94.6,538.2 L95.6,538.1 L96.6,537.9 L97.6,537.7 L98.6,537.6 L99.6,537.4 L100.6,537.2 L101.6,537.0 L102.6,536.8 L103.6,536.6 L104.6,536.4 L105.6,536.2 L106.6,535.9 L107.6,535.6 L108.6,535.2 L109.6,534.8 L110.6,534.3 L111.6,533.3 L112.6,531.8 L113.6,529.8 L114.6,527.5 L115.6,524.8 L116.6,522.0 L117.6,519.1 L118.6,516.1 L119.6,512.5 L120.6,508.5 L121.6,504.1 L122.6,499.6 L123.6,494.8 L124.6,489.7 L125.6,484.2 L126.6,478.5 L127.6,472.6 L128.6,466.5 L129.6,460.4 L130.6,454.2 L131.6,447.8 L132.6,441.0 L133.6,434.2 L134.6,427.4 L135.6,420.7 L136.6,414.4 L137.6,408.1 L138.6,401.6 L139.6,395.5 L140.6,390.1 L141.6,385.7 L142.6,381.9 L143.6,378.3 L144.6,375.6 L145.6,374.5 L146.6,375.4 L147.6,377.7 L148.6,380.7 L149.6,383.6 L150.6,385.7 L151.6,387.4 L152.6,388.9 L153.6,390.4 L154.6,391.9 L155.6,393.3 L156.6,394.6 L157.6,396.0 L158.6,397.6 L159.6,399.4 L160.6,401.3 L161.6,403.6 L162.6,406.1 L163.6,409.3 L164.6,413.2 L165.6,417.4 L166.6,422.1 L167.6,427.1 L168.6,432.3 L169.6,437.6 L170.6,443.0 L171.6,448.2 L172.5,453.2 L173.5,458.0 L174.5,462.9 L175.5,467.8 L176.5,472.7 L177.5,477.5 L178.5,482.2 L179.5,486.6 L180.5,490.8 L181.5,494.5 L182.5,497.7 L183.5,500.6 L184.5,503.3 L185.5,505.7 L186.5,507.8 L187.5,509.7 L188.5,511.4 L189.5,512.9 L190.5,514.3 L191.5,515.6 L192.5,516.8 L193.5,518.0 L194.5,519.1 L195.5,520.3 L196.5,521.5 L197.5,522.6 L198.5,523.8 L199.5,524.8 L200.5,525.9 L201.5,526.8 L202.5,527.7 L203.5,528.4 L204.5,529.1 L205.5,529.7 L206.5,530.2 L207.5,530.8 L208.5,531.3 L209.5,531.9 L210.5,532.3 L211.5,532.8 L212.5,533.2 L213.5,533.6 L214.5,534.0 L215.5,534.4 L216.5,534.7 L217.5,535.0 L218.5,535.2 L219.5,535.4 L220.5,535.6 L221.5,535.8 L222.5,535.9 L223.5,536.1 L224.5,536.2 L225.5,536.4 L226.5,536.6 L227.5,536.7 L228.5,536.8 L229.5,537.0 L230.5,537.1 L231.5,537.3 L232.5,537.4 L233.5,537.5 L234.5,537.6 L235.5,537.7 L236.5,537.8 L237.5,537.9 L238.5,538.0 L239.5,538.1 L240.5,538.2 L241.5,538.3 L242.5,538.4 L243.5,538.5 L244.5,538.5 L245.5,538.6 L246.5,538.6 L247.5,538.7 L248.5,538.7 L249.5,538.7 L250.5,538.8 L251.5,538.8 L252.5,538.8 L253.5,538.8"/>
<path class="c" stroke="#3B90E8" d="M73.0,538.8 L74.0,538.7 L75.0,538.2 L76.0,537.6 L77.0,536.7 L78.0,535.5 L79.0,533.1 L80.0,528.3 L81.0,521.3 L82.0,508.7 L83.0,482.5 L84.0,449.8 L84.9,416.0 L85.9,375.8 L86.9,334.5 L87.9,299.2 L88.9,266.4 L89.9,223.6 L90.9,187.1 L91.9,162.1 L92.9,141.8 L93.9,134.6 L94.9,145.6 L95.9,164.5 L96.9,181.1 L97.9,198.5 L98.9,217.7 L99.9,238.1 L100.9,249.2 L101.9,252.5 L102.9,254.5 L103.9,255.8 L104.9,256.9 L105.8,257.7 L106.8,258.4 L107.8,259.3 L108.8,260.6 L109.8,262.3 L110.8,265.3 L111.8,272.1 L112.8,281.1 L113.8,292.7 L114.8,305.2 L115.8,317.8 L116.8,327.8 L117.8,336.4 L118.8,344.8 L119.8,354.6 L120.8,365.9 L121.8,378.1 L122.8,390.5 L123.8,403.1 L124.8,416.1 L125.8,428.7 L126.8,440.0 L127.8,450.7 L128.7,460.8 L129.7,470.0 L130.7,477.8 L131.7,485.0 L132.7,491.9 L133.7,498.4 L134.7,504.4 L135.7,509.7 L136.7,514.1 L137.7,517.7 L138.7,520.3 L139.7,522.8 L140.7,525.0 L141.7,527.1 L142.7,528.9 L143.7,530.5 L144.7,531.8 L145.7,532.9 L146.7,533.8 L147.7,534.4 L148.7,535.0 L149.6,535.5 L150.6,536.0 L151.6,536.5 L152.6,537.0 L153.6,537.4 L154.6,537.7 L155.6,538.1 L156.6,538.3 L157.6,538.5 L158.6,538.7 L159.6,538.8 L160.6,538.8"/>
<path class="c" stroke="#83656A" d="M87.6,538.9 L88.6,538.9 L89.6,538.8 L90.6,538.6 L91.6,538.3 L92.6,537.6 L93.6,536.5 L94.6,534.8 L95.6,532.6 L96.5,529.8 L97.5,526.3 L98.5,521.8 L99.5,516.0 L100.5,508.8 L101.5,499.9 L102.5,489.2 L103.5,476.7 L104.5,462.2 L105.5,445.9 L106.5,428.0 L107.5,408.7 L108.5,388.5 L109.5,368.0 L110.5,347.8 L111.5,328.7 L112.5,311.4 L113.5,296.6 L114.4,285.1 L115.4,277.3 L116.4,273.6 L117.4,273.5 L118.4,274.9 L119.4,277.4 L120.4,281.1 L121.4,285.9 L122.4,291.7 L123.4,298.4 L124.4,306.0 L125.4,314.4 L126.4,323.5 L127.4,333.1 L128.4,343.2 L129.4,353.7 L130.4,364.3 L131.4,375.1 L132.3,385.9 L133.3,396.7 L134.3,407.3 L135.3,417.6 L136.3,427.7 L137.3,437.3 L138.3,446.6 L139.3,455.3 L140.3,463.6 L141.3,471.4 L142.3,478.6 L143.3,485.2 L144.3,491.3 L145.3,496.9 L146.3,501.8 L147.3,506.2 L148.3,510.0 L149.3,513.2 L150.2,515.8 L151.2,518.0 L152.2,519.7 L153.2,521.0 L154.2,522.0 L155.2,522.9 L156.2,523.7 L157.2,524.6 L158.2,525.6 L159.2,526.6 L160.2,527.6 L161.2,528.6 L162.2,529.5 L163.2,530.4 L164.2,531.4 L165.2,532.3 L166.2,533.1 L167.2,533.9 L168.1,534.7 L169.1,535.4 L170.1,536.0 L171.1,536.5 L172.1,537.0 L173.1,537.4 L174.1,537.7 L175.1,538.0 L176.1,538.2 L177.1,538.4 L178.1,538.5 L179.1,538.6 L180.1,538.7 L181.1,538.8 L182.1,538.8 L183.1,538.8 L184.1,538.9 L185.1,538.9 L186.0,538.9 L187.0,538.9 L188.0,538.9 L189.0,538.9 L190.0,538.9 L191.0,538.9 L192.0,538.9 L193.0,538.9 L194.0,538.9"/>
<path class="c" stroke="#EBA0B2" d="M77.0,538.9 L78.0,538.6 L79.0,537.3 L80.0,534.4 L80.9,528.8 L81.9,519.3 L82.9,505.0 L83.9,485.4 L84.9,461.1 L85.9,435.0 L86.8,407.2 L87.8,375.4 L88.8,340.1 L89.8,302.2 L90.8,262.9 L91.8,223.8 L92.8,186.7 L93.7,153.3 L94.7,125.5 L95.7,105.0 L96.7,92.8 L97.7,89.8 L98.7,94.4 L99.7,105.6 L100.6,122.9 L101.6,145.5 L102.6,172.4 L103.6,202.7 L104.6,235.0 L105.6,268.3 L106.5,301.6 L107.5,333.8 L108.5,364.2 L109.5,392.2 L110.5,417.3 L111.5,439.4 L112.5,458.4 L113.4,474.3 L114.4,487.4 L115.4,497.9 L116.4,506.1 L117.4,512.5 L118.4,517.3 L119.3,520.9 L120.3,523.6 L121.3,525.6 L122.3,527.2 L123.3,528.5 L124.3,529.6 L125.3,530.6 L126.2,531.5 L127.2,532.3 L128.2,533.0 L129.2,533.5 L130.2,533.9 L131.2,533.9 L132.2,533.7 L133.1,533.4 L134.1,533.3 L135.1,533.8 L136.1,534.8 L137.1,536.0 L138.1,537.2 L139.0,538.1 L140.0,538.6 L141.0,538.9 L142.0,538.9"/>
<path class="c" stroke="#3F55C8" d="M80.0,538.9 L81.0,538.8 L82.0,538.3 L83.0,537.2 L84.0,535.3 L85.0,532.3 L86.0,527.7 L87.0,521.7 L88.0,514.3 L89.0,506.3 L90.0,497.6 L90.9,487.1 L91.9,474.9 L92.9,460.9 L93.9,445.2 L94.9,427.7 L95.9,408.9 L96.9,388.9 L97.9,368.2 L98.9,347.3 L99.9,326.8 L100.9,307.2 L101.9,289.3 L102.9,273.7 L103.9,260.9 L104.9,251.5 L105.9,245.8 L106.9,244.0 L107.9,245.2 L108.9,248.3 L109.9,253.4 L110.8,260.3 L111.8,268.9 L112.8,279.1 L113.8,290.5 L114.8,303.1 L115.8,316.6 L116.8,330.8 L117.8,345.3 L118.8,360.1 L119.8,374.9 L120.8,389.5 L121.8,403.8 L122.8,417.5 L123.8,430.6 L124.8,442.9 L125.8,454.4 L126.8,465.0 L127.8,474.8 L128.8,483.6 L129.8,491.6 L130.7,498.6 L131.7,504.9 L132.7,510.4 L133.7,515.1 L134.7,519.2 L135.7,522.8 L136.7,525.7 L137.7,528.2 L138.7,530.3 L139.7,532.0 L140.7,533.4 L141.7,534.6 L142.7,535.5 L143.7,536.3 L144.7,536.9 L145.7,537.3 L146.7,537.7 L147.7,538.0 L148.7,538.2 L149.7,538.4 L150.6,538.5 L151.6,538.6 L152.6,538.7 L153.6,538.8 L154.6,538.8 L155.6,538.9 L156.6,538.9 L157.6,538.9 L158.6,538.9 L159.6,538.9 L160.6,538.9"/>
<rect class="k" x="53.4" y="73" width="540.5" height="483.3"/>
<path class="k" d="M73.5,556.3V576M173.5,556.3V576M273.5,556.3V576M373.6,556.3V576M473.6,556.3V576M573.6,556.3V576"/>
<text class="a" x="73.7" y="625">0.0</text>
<text class="a" x="173.7" y="625">0.2</text>
<text class="a" x="273.7" y="625">0.4</text>
<text class="a" x="373.8" y="625">0.6</text>
<text class="a" x="473.8" y="625">0.8</text>
<text class="a" x="573.8" y="625">1.0</text>
<text class="t" x="322.3" y="28">Recovery , state 1</text>
<text class="p" x="0.8" y="93.3">c</text>
<text class="a" transform="translate(27.3,313.6) rotate(-90)">Density</text>
<path class="c" stroke="#6B0F0F" d="M249.8,99.7H289.1"/>
<text class="l" x="307.9" y="107.7">Kelps</text>
<path class="c" stroke="#2e2e2e" d="M249.8,126.1H289.1"/>
<text class="l" x="307.9" y="134.1">Substrate</text>
<path class="c" stroke="#36895A" d="M249.8,152.6H289.1"/>
<text class="l" x="307.9" y="160.6">Surfgrasses</text>
<path class="c" stroke="#22C7B8" d="M249.8,179.0H289.1"/>
<text class="l" x="307.9" y="187.0">Acorn barnacles</text>
<path class="c" stroke="#C22E10" d="M249.8,205.4H289.1"/>
<text class="l" x="307.9" y="213.4">Turf algae</text>
<path class="c" stroke="#E5722A" d="M249.8,231.9H289.1"/>
<text class="l" x="307.9" y="239.9">Branching and bladed algae</text>
<path class="c" stroke="#3B90E8" d="M249.8,258.3H289.1"/>
<text class="l" x="307.9" y="266.3">Gooseneck barnacles</text>
<path class="c" stroke="#83656A" d="M249.8,284.7H289.1"/>
<text class="l" x="307.9" y="292.7">Crustose fleshy algae</text>
<path class="c" stroke="#EBA0B2" d="M249.8,311.1H289.1"/>
<text class="l" x="307.9" y="319.1">Crustose coralline algae</text>
<path class="c" stroke="#3F55C8" d="M249.8,337.6H289.1"/>
<text class="l" x="307.9" y="345.6">Mussels</text>
</g>
<g transform="translate(661.3,680.2)">
<path class="c" stroke="#6B0F0F" d="M97.0,538.5 L98.0,538.0 L99.0,536.8 L100.0,535.0 L101.0,531.9 L102.0,526.6 L103.0,520.2 L104.0,512.1 L105.0,500.5 L106.0,480.7 L107.0,456.3 L108.0,430.3 L108.9,407.0 L109.9,387.7 L110.9,372.7 L111.9,362.4 L112.9,355.3 L113.9,351.9 L114.9,349.3 L115.9,346.4 L116.9,340.7 L117.9,307.1 L118.9,271.5 L119.9,245.5 L120.9,213.4 L121.9,178.9 L122.9,152.3 L123.9,130.1 L124.9,114.9 L125.9,102.1 L126.9,92.8 L127.9,90.0 L128.9,95.6 L129.9,106.9 L130.8,120.7 L131.8,140.4 L132.8,165.8 L133.8,193.0 L134.8,224.1 L135.8,262.9 L136.8,304.4 L137.8,332.3 L138.8,358.9 L139.8,388.1 L140.8,415.3 L141.8,437.9 L142.8,457.7 L143.8,474.8 L144.8,490.5 L145.8,503.8 L146.8,513.5 L147.8,521.0 L148.8,526.4 L149.8,530.0 L150.8,533.0 L151.8,534.8 L152.8,534.8 L153.7,534.1 L154.7,533.5 L155.7,533.9 L156.7,535.1 L157.7,536.3 L158.7,536.9 L159.7,537.3 L160.7,537.7 L161.7,538.0 L162.7,538.3 L163.7,538.4 L164.7,538.5"/>
<path class="c" stroke="#2e2e2e" d="M85.0,538.9 L86.0,538.7 L87.0,538.1 L88.0,537.0 L89.0,535.1 L90.0,532.1 L90.9,528.1 L91.9,523.0 L92.9,517.2 L93.9,511.3 L94.9,505.1 L95.9,497.8 L96.9,489.3 L97.9,479.7 L98.9,468.9 L99.9,456.8 L100.9,443.5 L101.9,429.0 L102.8,413.4 L103.8,396.8 L104.8,379.5 L105.8,361.7 L106.8,343.7 L107.8,325.7 L108.8,308.2 L109.8,291.4 L110.8,275.7 L111.8,261.6 L112.8,249.2 L113.8,239.1 L114.7,231.3 L115.7,226.1 L116.7,223.6 L117.7,223.7 L118.7,225.6 L119.7,229.2 L120.7,234.4 L121.7,241.1 L122.7,249.2 L123.7,258.6 L124.7,269.1 L125.6,280.7 L126.6,293.1 L127.6,306.1 L128.6,319.7 L129.6,333.6 L130.6,347.6 L131.6,361.6 L132.6,375.5 L133.6,389.1 L134.6,402.3 L135.6,415.0 L136.6,427.2 L137.5,438.7 L138.5,449.4 L139.5,459.5 L140.5,468.8 L141.5,477.4 L142.5,485.2 L143.5,492.2 L144.5,498.6 L145.5,504.2 L146.5,509.3 L147.5,513.7 L148.4,517.6 L149.4,521.0 L150.4,523.9 L151.4,526.4 L152.4,528.6 L153.4,530.4 L154.4,532.0 L155.4,533.2 L156.4,534.3 L157.4,535.2 L158.4,535.9 L159.4,536.5 L160.3,537.0 L161.3,537.4 L162.3,537.7 L163.3,537.9 L164.3,538.0 L165.3,538.1 L166.3,538.2 L167.3,538.2 L168.3,538.1 L169.3,538.0 L170.3,537.8 L171.2,537.7 L172.2,537.4 L173.2,537.1 L174.2,536.8 L175.2,536.5 L176.2,536.1 L177.2,535.8 L178.2,535.4 L179.2,535.1 L180.2,534.7 L181.2,534.4 L182.2,534.2 L183.1,534.0 L184.1,533.9 L185.1,533.9 L186.1,534.0 L187.1,534.2 L188.1,534.5 L189.1,534.9 L190.1,535.4 L191.1,535.9 L192.1,536.5 L193.1,537.1 L194.1,537.7 L195.0,538.2 L196.0,538.5 L197.0,538.7 L198.0,538.8 L199.0,538.9 L200.0,538.9"/>
<path class="c" stroke="#36895A" d="M85.0,538.9 L86.0,538.7 L87.0,537.9 L88.0,536.2 L89.0,533.4 L90.0,529.1 L90.9,523.2 L91.9,515.6 L92.9,506.9 L93.9,498.1 L94.9,488.9 L95.9,478.3 L96.9,466.1 L97.9,452.5 L98.9,437.5 L99.9,421.1 L100.8,403.6 L101.8,385.1 L102.8,366.0 L103.8,346.6 L104.8,327.4 L105.8,308.8 L106.8,291.2 L107.8,275.1 L108.8,261.1 L109.8,249.4 L110.7,240.5 L111.7,234.7 L112.7,232.1 L113.7,232.4 L114.7,234.5 L115.7,238.2 L116.7,243.6 L117.7,250.5 L118.7,258.7 L119.7,268.2 L120.6,278.8 L121.6,290.3 L122.6,302.5 L123.6,315.3 L124.6,328.4 L125.6,341.6 L126.6,354.8 L127.6,367.7 L128.6,380.3 L129.6,392.3 L130.5,403.7 L131.5,414.4 L132.5,424.2 L133.5,433.3 L134.5,441.6 L135.5,449.0 L136.5,455.7 L137.5,461.8 L138.5,467.3 L139.5,472.3 L140.4,476.9 L141.4,481.2 L142.4,485.3 L143.4,489.2 L144.4,492.9 L145.4,496.4 L146.4,499.7 L147.4,502.8 L148.4,505.8 L149.4,508.6 L150.3,511.3 L151.3,513.9 L152.3,516.3 L153.3,518.6 L154.3,520.7 L155.3,522.6 L156.3,524.3 L157.3,525.9 L158.3,527.3 L159.3,528.5 L160.2,529.6 L161.2,530.5 L162.2,531.2 L163.2,531.9 L164.2,532.4 L165.2,532.8 L166.2,533.2 L167.2,533.5 L168.2,533.7 L169.2,534.0 L170.1,534.2 L171.1,534.4 L172.1,534.6 L173.1,534.9 L174.1,535.2 L175.1,535.5 L176.1,535.8 L177.1,536.2 L178.1,536.7 L179.1,537.3 L180.0,537.8 L181.0,538.2 L182.0,538.5 L183.0,538.7 L184.0,538.9 L185.0,538.9"/>
<path class="c" stroke="#22C7B8" d="M84.0,538.9 L85.0,538.7 L86.0,538.2 L87.0,537.0 L88.0,535.0 L88.9,531.9 L89.9,527.7 L90.9,522.3 L91.9,515.9 L92.9,509.4 L93.9,502.6 L94.9,494.5 L95.9,485.2 L96.9,474.6 L97.8,462.7 L98.8,449.4 L99.8,434.8 L100.8,419.0 L101.8,402.2 L102.8,384.5 L103.8,366.2 L104.8,347.6 L105.7,329.1 L106.7,311.0 L107.7,293.8 L108.7,277.8 L109.7,263.5 L110.7,251.2 L111.7,241.4 L112.7,234.1 L113.7,229.8 L114.6,228.4 L115.6,229.3 L116.6,231.9 L117.6,236.2 L118.6,242.1 L119.6,249.5 L120.6,258.2 L121.6,268.2 L122.6,279.2 L123.5,291.0 L124.5,303.5 L125.5,316.4 L126.5,329.6 L127.5,342.9 L128.5,356.0 L129.5,368.9 L130.5,381.3 L131.4,393.2 L132.4,404.4 L133.4,414.9 L134.4,424.6 L135.4,433.5 L136.4,441.6 L137.4,449.0 L138.4,455.7 L139.4,461.8 L140.3,467.3 L141.3,472.5 L142.3,477.3 L143.3,481.8 L144.3,486.2 L145.3,490.4 L146.3,494.3 L147.3,498.1 L148.3,501.8 L149.2,505.3 L150.2,508.7 L151.2,512.0 L152.2,515.1 L153.2,518.0 L154.2,520.7 L155.2,523.2 L156.2,525.5 L157.1,527.5 L158.1,529.4 L159.1,531.0 L160.1,532.5 L161.1,533.7 L162.1,534.8 L163.1,536.0 L164.1,536.9 L165.1,537.7 L166.0,538.2 L167.0,538.6 L168.0,538.8 L169.0,538.9 L170.0,538.9"/>
<path class="c" stroke="#C22E10" d="M88.0,538.5 L89.0,538.4 L90.0,538.0 L91.0,537.4 L92.0,536.7 L93.0,535.9 L94.0,535.0 L95.0,534.0 L96.0,532.7 L97.0,531.0 L98.0,529.0 L99.0,526.4 L100.0,522.1 L101.0,515.7 L102.0,507.9 L103.0,499.2 L104.0,490.1 L104.9,481.4 L105.9,473.3 L106.9,465.1 L107.9,456.7 L108.9,448.2 L109.9,439.6 L110.9,431.0 L111.9,422.4 L112.9,414.0 L113.9,405.7 L114.9,397.5 L115.9,389.3 L116.9,381.0 L117.9,372.4 L118.9,363.2 L119.9,352.9 L120.9,342.5 L121.9,333.1 L122.9,325.7 L123.9,319.2 L124.9,314.0 L125.9,311.1 L126.9,309.1 L127.9,307.7 L128.9,307.0 L129.9,307.9 L130.9,310.6 L131.9,313.6 L132.9,317.0 L133.9,320.8 L134.9,322.5 L135.8,320.8 L136.8,318.3 L137.8,316.6 L138.8,315.2 L139.8,315.1 L140.8,317.9 L141.8,322.1 L142.8,329.0 L143.8,337.8 L144.8,345.5 L145.8,353.1 L146.8,360.6 L147.8,368.2 L148.8,375.9 L149.8,384.0 L150.8,392.3 L151.8,400.6 L152.8,408.5 L153.8,415.9 L154.8,423.1 L155.8,430.1 L156.8,436.5 L157.8,442.3 L158.8,447.2 L159.8,451.7 L160.8,455.9 L161.8,459.8 L162.8,463.6 L163.8,467.2 L164.8,470.8 L165.8,474.4 L166.8,478.2 L167.8,482.1 L168.7,486.0 L169.7,490.0 L170.7,494.0 L171.7,497.8 L172.7,501.4 L173.7,504.8 L174.7,507.8 L175.7,510.5 L176.7,513.0 L177.7,515.3 L178.7,517.5 L179.7,519.5 L180.7,521.3 L181.7,522.8 L182.7,524.0 L183.7,525.0 L184.7,526.1 L185.7,527.0 L186.7,527.9 L187.7,528.8 L188.7,529.6 L189.7,530.3 L190.7,531.0 L191.7,531.6 L192.7,532.1 L193.7,532.7 L194.7,533.1 L195.7,533.5 L196.7,533.9 L197.7,534.3 L198.7,534.7 L199.6,535.0 L200.6,535.4 L201.6,535.7 L202.6,536.1 L203.6,536.4 L204.6,536.7 L205.6,537.0 L206.6,537.2 L207.6,537.5 L208.6,537.7 L209.6,537.9 L210.6,538.1 L211.6,538.2 L212.6,538.3 L213.6,538.4 L214.6,538.5 L215.6,538.5"/>
<path class="c" stroke="#E5722A" d="M86.0,538.9 L87.0,538.8 L88.0,538.4 L89.0,537.6 L90.0,536.3 L91.0,534.3 L91.9,531.5 L92.9,527.8 L93.9,523.6 L94.9,519.1 L95.9,514.3 L96.9,508.6 L97.9,501.9 L98.9,494.1 L99.9,485.2 L100.9,475.1 L101.8,463.7 L102.8,451.1 L103.8,437.3 L104.8,422.4 L105.8,406.4 L106.8,389.6 L107.8,372.1 L108.8,354.3 L109.8,336.4 L110.8,318.6 L111.8,301.5 L112.7,285.3 L113.7,270.4 L114.7,257.1 L115.7,245.8 L116.7,236.7 L117.7,230.1 L118.7,226.2 L119.7,225.0 L120.7,225.9 L121.7,228.3 L122.6,232.1 L123.6,237.4 L124.6,244.0 L125.6,251.9 L126.6,260.9 L127.6,270.9 L128.6,281.9 L129.6,293.5 L130.6,305.7 L131.6,318.4 L132.6,331.4 L133.5,344.5 L134.5,357.6 L135.5,370.6 L136.5,383.3 L137.5,395.7 L138.5,407.6 L139.5,419.0 L140.5,429.8 L141.5,439.9 L142.5,449.4 L143.4,458.1 L144.4,466.1 L145.4,473.4 L146.4,480.0 L147.4,485.9 L148.4,491.2 L149.4,495.9 L150.4,500.0 L151.4,503.6 L152.4,506.7 L153.4,509.5 L154.3,511.9 L155.3,514.1 L156.3,516.0 L157.3,517.7 L158.3,519.3 L159.3,520.7 L160.3,521.9 L161.3,523.1 L162.3,524.2 L163.3,525.2 L164.2,526.2 L165.2,527.1 L166.2,528.0 L167.2,528.8 L168.2,529.6 L169.2,530.4 L170.2,531.2 L171.2,531.9 L172.2,532.6 L173.2,533.2 L174.2,533.9 L175.1,534.4 L176.1,535.0 L177.1,535.4 L178.1,535.9 L179.1,536.3 L180.1,536.7 L181.1,537.0 L182.1,537.3 L183.1,537.7 L184.1,538.0 L185.0,538.3 L186.0,538.6 L187.0,538.7 L188.0,538.8 L189.0,538.9 L190.0,538.9"/>
<path class="c" stroke="#3B90E8" d="M82.0,538.9 L83.0,538.9 L84.0,538.7 L85.0,538.4 L86.0,537.8 L86.9,536.7 L87.9,535.0 L88.9,532.7 L89.9,529.7 L90.9,526.2 L91.9,522.2 L92.9,517.0 L93.9,510.7 L94.8,502.9 L95.8,493.5 L96.8,482.4 L97.8,469.4 L98.8,454.4 L99.8,437.5 L100.8,418.5 L101.8,397.8 L102.8,375.5 L103.7,351.9 L104.7,327.4 L105.7,302.7 L106.7,278.2 L107.7,254.6 L108.7,232.6 L109.7,212.8 L110.7,195.9 L111.6,182.5 L112.6,173.0 L113.6,167.7 L114.6,166.8 L115.6,168.3 L116.6,171.6 L117.6,176.8 L118.6,183.6 L119.6,192.0 L120.5,201.9 L121.5,213.2 L122.5,225.6 L123.5,239.1 L124.5,253.4 L125.5,268.4 L126.5,283.8 L127.5,299.6 L128.4,315.5 L129.4,331.4 L130.4,347.1 L131.4,362.6 L132.4,377.5 L133.4,392.0 L134.4,405.8 L135.4,418.9 L136.4,431.3 L137.3,442.8 L138.3,453.6 L139.3,463.5 L140.3,472.6 L141.3,480.9 L142.3,488.4 L143.3,495.2 L144.3,501.2 L145.2,506.6 L146.2,511.3 L147.2,515.5 L148.2,519.1 L149.2,522.3 L150.2,525.0 L151.2,527.3 L152.2,529.3 L153.2,531.0 L154.1,532.4 L155.1,533.6 L156.1,534.6 L157.1,535.4 L158.1,536.2 L159.1,536.9 L160.1,537.6 L161.1,538.1 L162.0,538.4 L163.0,538.7 L164.0,538.8 L165.0,538.9 L166.0,538.9"/>
<path class="c" stroke="#83656A" d="M82.0,538.9 L83.0,538.8 L84.0,538.4 L85.0,537.7 L86.0,536.4 L87.0,534.6 L88.0,532.0 L89.0,528.7 L89.9,524.9 L90.9,521.0 L91.9,516.8 L92.9,511.8 L93.9,506.0 L94.9,499.3 L95.9,491.7 L96.9,483.0 L97.9,473.2 L98.9,462.3 L99.9,450.4 L100.9,437.5 L101.9,423.6 L102.9,408.9 L103.9,393.5 L104.8,377.6 L105.8,361.4 L106.8,345.2 L107.8,329.1 L108.8,313.7 L109.8,299.0 L110.8,285.5 L111.8,273.3 L112.8,262.9 L113.8,254.4 L114.8,248.0 L115.8,243.8 L116.8,242.1 L117.8,242.5 L118.8,244.4 L119.8,247.8 L120.7,252.7 L121.7,259.0 L122.7,266.5 L123.7,275.2 L124.7,285.0 L125.7,295.6 L126.7,307.1 L127.7,319.1 L128.7,331.5 L129.7,344.3 L130.7,357.3 L131.7,370.2 L132.7,383.0 L133.7,395.6 L134.7,407.9 L135.6,419.7 L136.6,431.1 L137.6,441.8 L138.6,451.9 L139.6,461.4 L140.6,470.2 L141.6,478.3 L142.6,485.8 L143.6,492.5 L144.6,498.6 L145.6,504.1 L146.6,509.0 L147.6,513.4 L148.6,517.2 L149.6,520.5 L150.5,523.4 L151.5,525.9 L152.5,528.1 L153.5,529.9 L154.5,531.5 L155.5,532.8 L156.5,533.9 L157.5,534.8 L158.5,535.6 L159.5,536.2 L160.5,536.7 L161.5,537.1 L162.5,537.5 L163.5,537.7 L164.5,537.9 L165.5,538.1 L166.4,538.2 L167.4,538.2 L168.4,538.3 L169.4,538.3 L170.4,538.3 L171.4,538.3 L172.4,538.3 L173.4,538.2 L174.4,538.1 L175.4,538.1 L176.4,538.0 L177.4,537.9 L178.4,537.8 L179.4,537.7 L180.4,537.6 L181.3,537.5 L182.3,537.4 L183.3,537.3 L184.3,537.2 L185.3,537.0 L186.3,536.9 L187.3,536.8 L188.3,536.7 L189.3,536.6 L190.3,536.5 L191.3,536.4 L192.3,536.3 L193.3,536.2 L194.3,536.1 L195.3,536.0 L196.2,536.0 L197.2,536.0 L198.2,535.9 L199.2,535.9 L200.2,535.9 L201.2,535.9 L202.2,535.9 L203.2,536.0 L204.2,536.0 L205.2,536.1 L206.2,536.1 L207.2,536.2 L208.2,536.3 L209.2,536.4 L210.2,536.5 L211.2,536.6 L212.1,536.7 L213.1,536.9 L214.1,537.0 L215.1,537.1 L216.1,537.2 L217.1,537.3 L218.1,537.5 L219.1,537.6 L220.1,537.7 L221.1,537.8 L222.1,537.9 L223.1,538.0 L224.1,538.1 L225.1,538.2 L226.1,538.3 L227.0,538.4 L228.0,538.5 L229.0,538.6 L230.0,538.7 L231.0,538.8 L232.0,538.9 L233.0,538.9 L234.0,538.9"/>
<path class="c" stroke="#EBA0B2" d="M77.9,538.5 L78.9,538.3 L79.9,537.9 L80.9,537.2 L81.9,536.3 L82.9,535.1 L83.9,533.0 L84.9,529.0 L85.9,523.6 L86.9,517.2 L87.9,510.4 L88.9,502.5 L89.9,492.7 L90.9,481.8 L91.9,470.1 L92.9,456.9 L93.9,442.7 L94.8,428.2 L95.8,413.1 L96.8,397.1 L97.8,379.6 L98.8,359.0 L99.8,335.5 L100.8,313.2 L101.8,293.7 L102.8,277.2 L103.8,265.7 L104.8,256.0 L105.8,249.3 L106.8,246.6 L107.8,245.3 L108.8,244.3 L109.8,243.3 L110.8,241.7 L111.8,239.7 L112.8,237.7 L113.8,236.1 L114.8,235.2 L115.8,236.4 L116.8,241.7 L117.8,248.6 L118.8,255.1 L119.8,262.9 L120.8,273.2 L121.8,289.2 L122.8,306.3 L123.8,319.9 L124.8,332.4 L125.8,344.1 L126.8,355.2 L127.7,365.8 L128.7,376.0 L129.7,385.9 L130.7,395.3 L131.7,404.4 L132.7,413.2 L133.7,421.8 L134.7,430.2 L135.7,438.6 L136.7,446.9 L137.7,455.5 L138.7,463.8 L139.7,471.5 L140.7,478.1 L141.7,484.2 L142.7,490.0 L143.7,495.5 L144.7,500.5 L145.7,504.9 L146.7,508.6 L147.7,511.6 L148.7,514.3 L149.7,516.7 L150.7,519.0 L151.7,521.0 L152.7,522.9 L153.7,524.5 L154.7,525.9 L155.7,527.2 L156.7,528.3 L157.7,529.4 L158.7,530.4 L159.6,531.3 L160.6,532.2 L161.6,533.0 L162.6,533.7 L163.6,534.3 L164.6,534.8 L165.6,535.3 L166.6,535.8 L167.6,536.2 L168.6,536.6 L169.6,537.0 L170.6,537.4 L171.6,537.7 L172.6,538.0 L173.6,538.2 L174.6,538.4 L175.6,538.5"/>
<path class="c" stroke="#3F55C8" d="M80.4,538.9 L81.4,538.5 L82.4,537.5 L83.4,535.7 L84.4,533.1 L85.4,529.5 L86.4,525.1 L87.4,520.1 L88.4,515.1 L89.4,510.7 L90.4,506.4 L91.4,501.7 L92.4,496.5 L93.4,490.8 L94.4,484.5 L95.4,477.6 L96.4,470.3 L97.4,462.3 L98.4,453.9 L99.4,444.9 L100.4,435.4 L101.4,425.5 L102.4,415.2 L103.4,404.5 L104.4,393.6 L105.4,382.4 L106.4,371.2 L107.4,359.9 L108.4,348.8 L109.4,337.8 L110.4,327.2 L111.4,316.9 L112.4,307.2 L113.4,298.2 L114.4,289.9 L115.4,282.4 L116.4,275.9 L117.4,270.5 L118.4,266.1 L119.4,262.9 L120.4,260.8 L121.4,260.0 L122.4,260.5 L123.4,262.1 L124.4,265.0 L125.4,269.0 L126.4,274.1 L127.4,280.3 L128.4,287.4 L129.4,295.4 L130.4,304.1 L131.4,313.5 L132.4,323.4 L133.4,333.8 L134.3,344.5 L135.3,355.4 L136.3,366.4 L137.3,377.3 L138.3,388.2 L139.3,398.8 L140.3,409.1 L141.3,419.1 L142.3,428.7 L143.3,437.7 L144.3,446.3 L145.3,454.4 L146.3,461.8 L147.3,468.8 L148.3,475.2 L149.3,481.0 L150.3,486.3 L151.3,491.1 L152.3,495.4 L153.3,499.3 L154.3,502.8 L155.3,505.9 L156.3,508.6 L157.3,511.1 L158.3,513.3 L159.3,515.3 L160.3,517.1 L161.3,518.8 L162.3,520.3 L163.3,521.6 L164.3,522.9 L165.3,524.1 L166.3,525.2 L167.3,526.3 L168.3,527.3 L169.3,528.3 L170.3,529.2 L171.3,530.1 L172.3,530.9 L173.3,531.7 L174.3,532.4 L175.3,533.1 L176.3,533.8 L177.3,534.4 L178.3,534.9 L179.3,535.5 L180.3,536.2 L181.3,536.9 L182.3,537.5 L183.3,538.1 L184.3,538.4 L185.3,538.7 L186.3,538.8 L187.3,538.9"/>
<rect class="k" x="53.4" y="73" width="540.5" height="483.3"/>
<path class="k" d="M73.5,556.3V576M173.5,556.3V576M273.5,556.3V576M373.6,556.3V576M473.6,556.3V576M573.6,556.3V576"/>
<text class="a" x="73.7" y="625">0.0</text>
<text class="a" x="173.7" y="625">0.2</text>
<text class="a" x="273.7" y="625">0.4</text>
<text class="a" x="373.8" y="625">0.6</text>
<text class="a" x="473.8" y="625">0.8</text>
<text class="a" x="573.8" y="625">1.0</text>
<text class="t" x="322.3" y="28">Recovery , state 2</text>
<text class="p" x="2.8" y="93.3">d</text>
<text class="a" transform="translate(27.3,313.6) rotate(-90)">Density</text>
<path class="c" stroke="#6B0F0F" d="M249.8,99.7H289.1"/>
<text class="l" x="307.9" y="107.7">Kelps</text>
<path class="c" stroke="#2e2e2e" d="M249.8,126.1H289.1"/>
<text class="l" x="307.9" y="134.1">Substrate</text>
<path class="c" stroke="#36895A" d="M249.8,152.6H289.1"/>
<text class="l" x="307.9" y="160.6">Surfgrasses</text>
<path class="c" stroke="#22C7B8" d="M249.8,179.0H289.1"/>
<text class="l" x="307.9" y="187.0">Acorn barnacles</text>
<path class="c" stroke="#C22E10" d="M249.8,205.4H289.1"/>
<text class="l" x="307.9" y="213.4">Turf algae</text>
<path class="c" stroke="#E5722A" d="M249.8,231.9H289.1"/>
<text class="l" x="307.9" y="239.9">Branching and bladed algae</text>
<path class="c" stroke="#3B90E8" d="M249.8,258.3H289.1"/>
<text class="l" x="307.9" y="266.3">Gooseneck barnacles</text>
<path class="c" stroke="#83656A" d="M249.8,284.7H289.1"/>
<text class="l" x="307.9" y="292.7">Crustose fleshy algae</text>
<path class="c" stroke="#EBA0B2" d="M249.8,311.1H289.1"/>
<text class="l" x="307.9" y="319.1">Crustose coralline algae</text>
<path class="c" stroke="#3F55C8" d="M249.8,337.6H289.1"/>
<text class="l" x="307.9" y="345.6">Mussels</text>
</g>
<g transform="translate(0.0,1360.3)">
<path class="c" stroke="#6B0F0F" d="M102.2,538.6 L103.2,538.5 L104.2,538.4 L105.2,538.1 L106.2,537.8 L107.2,537.4 L108.2,537.0 L109.2,536.4 L110.2,535.9 L111.2,535.0 L112.2,533.7 L113.2,532.1 L114.2,530.2 L115.2,528.0 L116.2,525.6 L117.2,523.0 L118.2,520.3 L119.2,517.5 L120.2,514.3 L121.2,510.6 L122.2,506.3 L123.2,501.7 L124.2,496.7 L125.2,491.2 L126.2,484.8 L127.1,477.0 L128.1,466.6 L129.1,452.9 L130.1,437.5 L131.1,420.0 L132.1,400.2 L133.1,380.3 L134.1,360.2 L135.1,340.3 L136.1,320.2 L137.1,300.2 L138.1,280.3 L139.1,259.7 L140.1,240.9 L141.1,225.6 L142.1,214.5 L143.1,208.1 L144.1,205.1 L145.1,206.1 L146.1,209.9 L147.1,213.4 L148.1,216.7 L149.1,219.8 L150.1,222.1 L151.1,225.2 L152.1,232.6 L153.1,241.9 L154.1,252.1 L155.1,261.9 L156.1,273.4 L157.1,286.6 L158.1,298.6 L159.1,310.7 L160.1,323.9 L161.1,339.1 L162.1,354.1 L163.1,368.8 L164.1,382.6 L165.1,398.6 L166.1,417.0 L167.1,437.5 L168.1,450.4 L169.1,460.6 L170.1,469.2 L171.1,477.1 L172.1,484.5 L173.1,491.1 L174.1,496.7 L175.1,501.7 L176.0,506.4 L177.0,510.6 L178.0,514.3 L179.0,517.4 L180.0,519.8 L181.0,521.8 L182.0,523.6 L183.0,525.2 L184.0,526.7 L185.0,528.0 L186.0,529.2 L187.0,530.4 L188.0,531.5 L189.0,532.6 L190.0,533.5 L191.0,534.3 L192.0,535.0 L193.0,535.6 L194.0,536.2 L195.0,536.8 L196.0,537.3 L197.0,537.7 L198.0,538.1 L199.0,538.4 L200.0,538.6"/>
<path class="c" stroke="#2e2e2e" d="M147.0,538.6 L148.0,538.6 L149.0,538.5 L150.0,538.5 L151.0,538.4 L152.0,538.3 L153.0,538.2 L154.0,538.1 L155.0,538.1 L156.0,538.0 L157.0,537.8 L158.0,537.7 L159.0,537.6 L160.0,537.5 L161.0,537.4 L161.9,537.3 L162.9,537.1 L163.9,537.0 L164.9,536.9 L165.9,536.7 L166.9,536.5 L167.9,536.3 L168.9,536.1 L169.9,535.9 L170.9,535.6 L171.9,535.3 L172.9,535.0 L173.9,534.6 L174.9,534.0 L175.9,533.2 L176.9,532.2 L177.9,531.2 L178.9,530.2 L179.9,529.1 L180.9,528.1 L181.9,527.1 L182.9,526.1 L183.9,525.1 L184.9,524.1 L185.9,523.0 L186.9,521.9 L187.9,520.7 L188.9,519.5 L189.8,518.2 L190.8,516.9 L191.8,515.5 L192.8,514.0 L193.8,512.5 L194.8,510.9 L195.8,509.3 L196.8,507.6 L197.8,506.0 L198.8,504.2 L199.8,502.4 L200.8,500.6 L201.8,498.5 L202.8,496.4 L203.8,494.1 L204.8,491.6 L205.8,489.1 L206.8,486.4 L207.8,483.6 L208.8,480.7 L209.8,477.8 L210.8,474.9 L211.8,471.9 L212.8,468.7 L213.8,465.4 L214.8,461.9 L215.8,458.5 L216.8,455.0 L217.7,451.7 L218.7,448.6 L219.7,445.6 L220.7,442.6 L221.7,439.6 L222.7,436.7 L223.7,434.0 L224.7,431.3 L225.7,428.7 L226.7,426.3 L227.7,423.9 L228.7,421.6 L229.7,419.4 L230.7,417.3 L231.7,415.3 L232.7,413.3 L233.7,411.3 L234.7,409.3 L235.7,407.3 L236.7,405.7 L237.7,404.4 L238.7,403.4 L239.7,402.6 L240.7,402.0 L241.7,401.9 L242.7,402.0 L243.7,402.3 L244.7,402.6 L245.7,403.0 L246.6,403.4 L247.6,403.9 L248.6,404.3 L249.6,404.7 L250.6,405.1 L251.6,405.7 L252.6,406.2 L253.6,406.9 L254.6,407.6 L255.6,408.5 L256.6,409.6 L257.6,411.0 L258.6,412.6 L259.6,414.4 L260.6,416.4 L261.6,418.5 L262.6,420.7 L263.6,423.4 L264.6,426.6 L265.6,430.1 L266.6,433.8 L267.6,437.7 L268.6,441.5 L269.6,445.2 L270.6,448.7 L271.6,452.3 L272.6,456.0 L273.6,459.6 L274.5,463.2 L275.5,466.6 L276.5,469.9 L277.5,473.0 L278.5,476.1 L279.5,479.0 L280.5,481.9 L281.5,484.7 L282.5,487.3 L283.5,489.7 L284.5,491.9 L285.5,494.0 L286.5,495.9 L287.5,497.8 L288.5,499.6 L289.5,501.3 L290.5,502.9 L291.5,504.5 L292.5,506.0 L293.5,507.5 L294.5,508.9 L295.5,510.3 L296.5,511.6 L297.5,513.0 L298.5,514.3 L299.5,515.6 L300.5,516.9 L301.5,518.1 L302.4,519.2 L303.4,520.3 L304.4,521.3 L305.4,522.2 L306.4,523.1 L307.4,523.8 L308.4,524.5 L309.4,525.3 L310.4,525.9 L311.4,526.6 L312.4,527.3 L313.4,527.9 L314.4,528.5 L315.4,529.0 L316.4,529.6 L317.4,530.1 L318.4,530.6 L319.4,531.1 L320.4,531.5 L321.4,531.9 L322.4,532.3 L323.4,532.7 L324.4,533.0 L325.4,533.3 L326.4,533.7 L327.4,534.0 L328.4,534.3 L329.4,534.6 L330.4,534.9 L331.3,535.1 L332.3,535.4 L333.3,535.7 L334.3,536.0 L335.3,536.2 L336.3,536.4 L337.3,536.7 L338.3,536.9 L339.3,537.1 L340.3,537.2 L341.3,537.4 L342.3,537.5 L343.3,537.6 L344.3,537.7 L345.3,537.8 L346.3,537.8 L347.3,537.8 L348.3,537.8 L349.3,537.8 L350.3,537.8 L351.3,537.8 L352.3,537.8 L353.3,537.8 L354.3,537.8 L355.3,537.8 L356.3,537.7 L357.3,537.7 L358.3,537.7 L359.2,537.7 L360.2,537.7 L361.2,537.7 L362.2,537.7 L363.2,537.7 L364.2,537.7 L365.2,537.7 L366.2,537.6 L367.2,537.6 L368.2,537.6 L369.2,537.6 L370.2,537.6 L371.2,537.6 L372.2,537.6 L373.2,537.6 L374.2,537.6 L375.2,537.6 L376.2,537.6 L377.2,537.6 L378.2,537.6 L379.2,537.6 L380.2,537.7 L381.2,537.7 L382.2,537.7 L383.2,537.7 L384.2,537.8 L385.2,537.8 L386.2,537.8 L387.1,537.9 L388.1,537.9 L389.1,538.0 L390.1,538.0 L391.1,538.0 L392.1,538.1 L393.1,538.1 L394.1,538.2 L395.1,538.3 L396.1,538.3 L397.1,538.4 L398.1,538.4 L399.1,538.5 L400.1,538.5 L401.1,538.6"/>
<path class="c" stroke="#36895A" d="M78.0,538.9 L79.0,538.7 L80.0,538.2 L81.0,537.1 L82.0,535.1 L82.9,532.0 L83.9,527.7 L84.9,521.9 L85.9,515.1 L86.9,507.9 L87.9,500.2 L88.9,491.0 L89.9,480.3 L90.8,468.0 L91.8,454.0 L92.8,438.3 L93.8,421.0 L94.8,402.2 L95.8,382.1 L96.8,361.1 L97.8,339.3 L98.7,317.3 L99.7,295.6 L100.7,274.5 L101.7,254.8 L102.7,236.8 L103.7,221.2 L104.7,208.4 L105.7,198.7 L106.7,192.5 L107.6,190.1 L108.6,190.7 L109.6,193.2 L110.6,197.7 L111.6,203.9 L112.6,211.8 L113.6,221.3 L114.6,232.2 L115.5,244.4 L116.5,257.6 L117.5,271.7 L118.5,286.6 L119.5,301.9 L120.5,317.5 L121.5,333.2 L122.5,348.8 L123.4,364.2 L124.4,379.3 L125.4,393.9 L126.4,407.8 L127.4,421.1 L128.4,433.6 L129.4,445.3 L130.4,456.1 L131.3,466.1 L132.3,475.3 L133.3,483.6 L134.3,491.1 L135.3,497.8 L136.3,503.7 L137.3,509.0 L138.3,513.6 L139.3,517.6 L140.2,521.1 L141.2,524.1 L142.2,526.6 L143.2,528.8 L144.2,530.6 L145.2,532.2 L146.2,533.5 L147.2,534.5 L148.1,535.4 L149.1,536.1 L150.1,536.7 L151.1,537.2 L152.1,537.6 L153.1,538.0 L154.1,538.3 L155.1,538.5 L156.0,538.7 L157.0,538.8 L158.0,538.9 L159.0,538.9 L160.0,538.9"/>
<path class="c" stroke="#C22E10" d="M80.0,538.9 L81.0,538.7 L82.0,538.1 L83.0,536.7 L84.0,534.2 L85.0,530.3 L86.0,524.5 L87.0,516.8 L87.9,507.5 L88.9,497.6 L89.9,486.7 L90.9,473.9 L91.9,459.0 L92.9,442.0 L93.9,422.9 L94.9,401.9 L95.9,379.2 L96.9,355.3 L97.9,330.5 L98.9,305.6 L99.9,281.1 L100.9,257.8 L101.9,236.5 L102.9,217.9 L103.8,202.7 L104.8,191.4 L105.8,184.5 L106.8,182.3 L107.8,183.3 L108.8,186.3 L109.8,191.1 L110.8,197.6 L111.8,205.9 L112.8,215.7 L113.8,227.0 L114.8,239.4 L115.8,253.0 L116.8,267.4 L117.8,282.4 L118.8,297.9 L119.7,313.8 L120.7,329.7 L121.7,345.5 L122.7,361.1 L123.7,376.3 L124.7,391.1 L125.7,405.2 L126.7,418.6 L127.7,431.3 L128.7,443.1 L129.7,454.1 L130.7,464.3 L131.7,473.6 L132.7,482.0 L133.7,489.6 L134.7,496.4 L135.6,502.5 L136.6,507.9 L137.6,512.6 L138.6,516.8 L139.6,520.3 L140.6,523.4 L141.6,526.1 L142.6,528.3 L143.6,530.2 L144.6,531.8 L145.6,533.1 L146.6,534.3 L147.6,535.2 L148.6,535.9 L149.6,536.5 L150.6,537.1 L151.5,537.6 L152.5,538.0 L153.5,538.4 L154.5,538.6 L155.5,538.7 L156.5,538.8 L157.5,538.9 L158.5,538.9"/>
<path class="c" stroke="#E5722A" d="M91.7,538.6 L92.7,538.5 L93.7,538.5 L94.7,538.3 L95.7,538.2 L96.7,538.1 L97.7,537.9 L98.7,537.7 L99.7,537.6 L100.7,537.4 L101.7,537.2 L102.7,536.9 L103.7,536.7 L104.7,536.4 L105.7,536.1 L106.7,535.8 L107.6,535.4 L108.6,534.9 L109.6,534.5 L110.6,533.9 L111.6,533.2 L112.6,532.1 L113.6,530.9 L114.6,529.3 L115.6,527.6 L116.6,525.7 L117.6,523.6 L118.6,521.4 L119.6,519.0 L120.6,516.4 L121.6,513.1 L122.6,509.2 L123.6,504.8 L124.6,500.0 L125.6,494.9 L126.6,488.6 L127.6,481.7 L128.6,474.5 L129.6,466.4 L130.6,457.7 L131.6,449.0 L132.6,441.0 L133.6,434.5 L134.6,429.7 L135.6,425.7 L136.6,421.4 L137.6,415.8 L138.5,409.3 L139.5,402.3 L140.5,395.4 L141.5,388.9 L142.5,382.4 L143.5,375.5 L144.5,368.3 L145.5,362.9 L146.5,358.9 L147.5,355.5 L148.5,352.4 L149.5,349.5 L150.5,346.6 L151.5,343.3 L152.5,340.0 L153.5,336.8 L154.5,333.6 L155.5,330.0 L156.5,326.6 L157.5,324.3 L158.5,324.5 L159.5,327.9 L160.5,332.0 L161.5,337.1 L162.5,342.8 L163.5,349.0 L164.5,355.8 L165.5,363.1 L166.5,371.1 L167.5,378.4 L168.5,384.3 L169.4,389.5 L170.4,394.3 L171.4,398.9 L172.4,403.6 L173.4,408.1 L174.4,412.5 L175.4,417.1 L176.4,422.6 L177.4,429.1 L178.4,435.7 L179.4,442.6 L180.4,450.0 L181.4,457.4 L182.4,464.5 L183.4,470.7 L184.4,475.8 L185.4,479.6 L186.4,482.9 L187.4,485.7 L188.4,488.1 L189.4,490.2 L190.4,491.9 L191.4,493.5 L192.4,495.0 L193.4,496.5 L194.4,498.1 L195.4,499.9 L196.4,501.7 L197.4,503.5 L198.4,505.3 L199.4,507.2 L200.3,509.1 L201.3,510.9 L202.3,512.7 L203.3,514.6 L204.3,516.3 L205.3,518.0 L206.3,519.7 L207.3,521.6 L208.3,523.5 L209.3,525.3 L210.3,527.2 L211.3,528.8 L212.3,530.4 L213.3,531.6 L214.3,532.6 L215.3,533.2 L216.3,533.7 L217.3,534.2 L218.3,534.6 L219.3,535.0 L220.3,535.4 L221.3,535.7 L222.3,535.9 L223.3,536.2 L224.3,536.4 L225.3,536.5 L226.3,536.7 L227.3,536.9 L228.3,537.0 L229.3,537.2 L230.3,537.3 L231.2,537.5 L232.2,537.6 L233.2,537.7 L234.2,537.8 L235.2,537.9 L236.2,538.1 L237.2,538.2 L238.2,538.2 L239.2,538.3 L240.2,538.4 L241.2,538.5 L242.2,538.5 L243.2,538.5 L244.2,538.6 L245.2,538.6 L246.2,538.6"/>
<path class="c" stroke="#83656A" d="M85.5,538.9 L86.5,538.8 L87.5,538.4 L88.5,537.6 L89.5,536.4 L90.5,534.7 L91.5,532.5 L92.5,529.9 L93.5,527.1 L94.5,524.4 L95.5,521.6 L96.5,518.4 L97.5,514.8 L98.5,510.7 L99.5,506.0 L100.5,500.8 L101.5,495.0 L102.5,488.7 L103.5,481.6 L104.5,474.0 L105.5,465.8 L106.5,456.9 L107.5,447.5 L108.5,437.6 L109.5,427.2 L110.5,416.4 L111.5,405.3 L112.5,394.0 L113.5,382.6 L114.5,371.2 L115.5,360.0 L116.5,349.1 L117.5,338.5 L118.5,328.6 L119.5,319.4 L120.5,311.0 L121.5,303.6 L122.5,297.3 L123.5,292.2 L124.5,288.4 L125.5,285.8 L126.5,284.7 L127.5,284.8 L128.5,285.8 L129.5,287.6 L130.5,290.3 L131.5,293.8 L132.5,298.0 L133.5,303.0 L134.5,308.6 L135.5,314.9 L136.5,321.7 L137.5,329.1 L138.5,336.8 L139.5,345.0 L140.5,353.4 L141.5,362.1 L142.5,370.9 L143.5,379.8 L144.5,388.8 L145.5,397.7 L146.5,406.5 L147.5,415.3 L148.5,423.8 L149.5,432.1 L150.5,440.1 L151.5,447.8 L152.5,455.3 L153.5,462.3 L154.5,469.0 L155.5,475.4 L156.5,481.3 L157.4,486.9 L158.4,492.0 L159.4,496.8 L160.4,501.3 L161.4,505.4 L162.4,509.1 L163.4,512.5 L164.4,515.5 L165.4,518.3 L166.4,520.8 L167.4,523.0 L168.4,525.0 L169.4,526.8 L170.4,528.3 L171.4,529.6 L172.4,530.8 L173.4,531.8 L174.4,532.7 L175.4,533.4 L176.4,534.1 L177.4,534.6 L178.4,535.0 L179.4,535.4 L180.4,535.7 L181.4,535.9 L182.4,536.0 L183.4,536.1 L184.4,536.2 L185.4,536.3 L186.4,536.3 L187.4,536.3 L188.4,536.3 L189.4,536.2 L190.4,536.2 L191.4,536.1 L192.4,536.1 L193.4,536.0 L194.4,536.0 L195.4,535.9 L196.4,535.9 L197.4,535.9 L198.4,535.9 L199.4,535.9 L200.4,535.9 L201.4,535.9 L202.4,535.9 L203.4,536.0 L204.4,536.0 L205.4,536.1 L206.4,536.2 L207.4,536.2 L208.4,536.3 L209.4,536.4 L210.4,536.5 L211.4,536.7 L212.4,536.8 L213.4,536.9 L214.4,537.0 L215.4,537.1 L216.4,537.3 L217.4,537.4 L218.4,537.5 L219.4,537.6 L220.4,537.7 L221.4,537.9 L222.4,538.1 L223.4,538.4 L224.4,538.5 L225.4,538.7 L226.4,538.8 L227.4,538.9 L228.4,538.9"/>
<path class="c" stroke="#EBA0B2" d="M76.0,538.9 L77.0,538.8 L78.0,538.7 L79.0,538.2 L80.0,537.2 L80.9,535.6 L81.9,533.0 L82.9,529.1 L83.9,524.0 L84.9,517.9 L85.9,510.6 L86.9,501.3 L87.9,489.7 L88.9,475.6 L89.9,458.7 L90.8,438.8 L91.8,415.8 L92.8,389.8 L93.8,361.1 L94.8,330.1 L95.8,297.5 L96.8,263.9 L97.8,230.5 L98.8,198.2 L99.8,168.3 L100.7,141.8 L101.7,120.0 L102.7,103.6 L103.7,93.4 L104.7,90.0 L105.7,92.2 L106.7,98.8 L107.7,109.8 L108.7,124.6 L109.6,142.9 L110.6,164.1 L111.6,187.7 L112.6,212.9 L113.6,239.2 L114.6,265.8 L115.6,292.3 L116.6,318.1 L117.6,342.7 L118.6,365.7 L119.5,387.0 L120.5,406.3 L121.5,423.5 L122.5,438.6 L123.5,451.8 L124.5,463.1 L125.5,472.7 L126.5,480.9 L127.5,487.7 L128.4,493.5 L129.4,498.4 L130.4,502.6 L131.4,506.3 L132.4,509.6 L133.4,512.6 L134.4,515.4 L135.4,518.0 L136.4,520.4 L137.4,522.7 L138.3,524.9 L139.3,526.9 L140.3,528.7 L141.3,530.4 L142.3,531.8 L143.3,533.1 L144.3,534.1 L145.3,534.9 L146.3,535.4 L147.2,535.7 L148.2,535.8 L149.2,535.7 L150.2,535.4 L151.2,535.1 L152.2,534.8 L153.2,534.6 L154.2,534.7 L155.2,534.9 L156.2,535.1 L157.1,535.5 L158.1,536.0 L159.1,536.5 L160.1,537.0 L161.1,537.4 L162.1,537.8 L163.1,538.1 L164.1,538.4 L165.1,538.6 L166.1,538.8 L167.0,538.8 L168.0,538.9 L169.0,538.9 L170.0,538.9 L171.0,538.9"/>
<rect class="k" x="53.4" y="73" width="540.5" height="483.3"/>
<path class="k" d="M73.5,556.3V576M173.5,556.3V576M273.5,556.3V576M373.6,556.3V576M473.6,556.3V576M573.6,556.3V576"/>
<text class="a" x="73.7" y="625">0.0</text>
<text class="a" x="173.7" y="625">0.2</text>
<text class="a" x="273.7" y="625">0.4</text>
<text class="a" x="373.8" y="625">0.6</text>
<text class="a" x="473.8" y="625">0.8</text>
<text class="a" x="573.8" y="625">1.0</text>
<text class="t" x="322.3" y="28">Macrophyte-only , state 1</text>
<text class="p" x="0.8" y="93.3">e</text>
<text class="a" transform="translate(27.3,313.6) rotate(-90)">Density</text>
<path class="c" stroke="#6B0F0F" d="M249.8,99.7H289.1"/>
<text class="l" x="307.9" y="107.7">Kelps</text>
<path class="c" stroke="#2e2e2e" d="M249.8,126.1H289.1"/>
<text class="l" x="307.9" y="134.1">Substrate</text>
<path class="c" stroke="#36895A" d="M249.8,152.6H289.1"/>
<text class="l" x="307.9" y="160.6">Surfgrasses</text>
<path class="c" stroke="#C22E10" d="M249.8,179.0H289.1"/>
<text class="l" x="307.9" y="187.0">Turf algae</text>
<path class="c" stroke="#E5722A" d="M249.8,205.4H289.1"/>
<text class="l" x="307.9" y="213.4">Branching and bladed algae</text>
<path class="c" stroke="#83656A" d="M249.8,231.9H289.1"/>
<text class="l" x="307.9" y="239.9">Crustose fleshy algae</text>
<path class="c" stroke="#EBA0B2" d="M249.8,258.3H289.1"/>
<text class="l" x="307.9" y="266.3">Crustose coralline algae</text>
</g>
<g transform="translate(661.3,1360.3)">
<path class="c" stroke="#6B0F0F" d="M103.4,538.7 L104.4,538.5 L105.4,537.8 L106.4,536.8 L107.4,535.5 L108.4,534.1 L109.3,531.6 L110.3,528.1 L111.3,524.1 L112.3,519.9 L113.3,515.7 L114.3,511.0 L115.3,505.5 L116.3,499.0 L117.3,491.1 L118.3,481.5 L119.2,469.6 L120.2,452.6 L121.2,431.1 L122.2,411.9 L123.2,390.8 L124.2,367.2 L125.2,343.3 L126.2,317.6 L127.2,286.7 L128.2,257.2 L129.2,230.7 L130.1,206.7 L131.1,186.0 L132.1,169.3 L133.1,154.6 L134.1,141.3 L135.1,128.8 L136.1,116.4 L137.1,105.6 L138.1,97.7 L139.1,91.6 L140.0,92.0 L141.0,98.3 L142.0,107.4 L143.0,122.1 L144.0,138.4 L145.0,156.2 L146.0,177.3 L147.0,205.9 L148.0,238.9 L149.0,262.1 L149.9,282.0 L150.9,299.9 L151.9,317.4 L152.9,334.8 L153.9,351.5 L154.9,367.2 L155.9,382.1 L156.9,396.2 L157.9,410.0 L158.9,422.2 L159.9,432.6 L160.8,442.0 L161.8,450.6 L162.8,458.4 L163.8,465.3 L164.8,471.2 L165.8,476.6 L166.8,482.3 L167.8,488.9 L168.8,495.8 L169.8,502.7 L170.7,509.9 L171.7,516.8 L172.7,521.8 L173.7,525.7 L174.7,529.1 L175.7,531.5 L176.7,532.5 L177.7,532.9 L178.7,533.2 L179.7,533.4 L180.7,533.6 L181.6,533.9 L182.6,534.3 L183.6,534.8 L184.6,535.3 L185.6,535.9 L186.6,536.4 L187.6,536.9 L188.6,537.2 L189.6,537.5 L190.6,537.7 L191.5,538.0 L192.5,538.2 L193.5,538.4 L194.5,538.5 L195.5,538.6 L196.5,538.7"/>
<path class="c" stroke="#2e2e2e" d="M94.5,538.7 L95.5,538.7 L96.5,538.5 L97.5,538.3 L98.5,538.1 L99.5,537.8 L100.5,537.4 L101.5,537.0 L102.5,536.5 L103.5,535.8 L104.5,534.7 L105.5,533.2 L106.5,531.4 L107.5,529.3 L108.5,527.0 L109.4,524.6 L110.4,522.2 L111.4,519.7 L112.4,516.8 L113.4,513.5 L114.4,510.0 L115.4,506.1 L116.4,501.9 L117.4,497.4 L118.4,492.4 L119.4,486.9 L120.4,481.0 L121.4,475.0 L122.4,468.8 L123.4,462.6 L124.4,456.3 L125.4,449.9 L126.4,443.3 L127.4,436.1 L128.4,428.4 L129.4,419.5 L130.4,409.4 L131.4,399.2 L132.4,388.9 L133.4,378.6 L134.4,368.5 L135.4,358.2 L136.4,348.6 L137.4,340.5 L138.3,333.4 L139.3,326.1 L140.3,317.7 L141.3,309.4 L142.3,303.1 L143.3,298.0 L144.3,293.7 L145.3,291.0 L146.3,289.1 L147.3,287.6 L148.3,286.4 L149.3,285.7 L150.3,285.6 L151.3,286.4 L152.3,288.1 L153.3,290.3 L154.3,292.8 L155.3,296.9 L156.3,302.1 L157.3,307.5 L158.3,313.4 L159.3,319.8 L160.3,326.5 L161.3,333.3 L162.3,340.4 L163.3,348.1 L164.3,357.0 L165.3,367.3 L166.3,377.0 L167.2,384.7 L168.2,391.2 L169.2,397.5 L170.2,404.6 L171.2,412.2 L172.2,419.7 L173.2,426.2 L174.2,432.1 L175.2,437.7 L176.2,443.0 L177.2,448.0 L178.2,452.8 L179.2,457.3 L180.2,461.6 L181.2,465.6 L182.2,469.6 L183.2,473.5 L184.2,477.2 L185.2,480.9 L186.2,484.4 L187.2,487.7 L188.2,490.9 L189.2,493.8 L190.2,496.6 L191.2,499.2 L192.2,501.5 L193.2,503.7 L194.2,505.7 L195.2,507.7 L196.2,509.6 L197.1,511.4 L198.1,513.0 L199.1,514.6 L200.1,516.1 L201.1,517.5 L202.1,518.8 L203.1,520.0 L204.1,521.2 L205.1,522.2 L206.1,523.3 L207.1,524.3 L208.1,525.3 L209.1,526.2 L210.1,527.1 L211.1,527.9 L212.1,528.8 L213.1,529.5 L214.1,530.2 L215.1,530.9 L216.1,531.5 L217.1,532.1 L218.1,532.6 L219.1,533.0 L220.1,533.4 L221.1,533.9 L222.1,534.3 L223.1,534.7 L224.1,535.0 L225.1,535.4 L226.0,535.8 L227.0,536.1 L228.0,536.5 L229.0,536.8 L230.0,537.1 L231.0,537.4 L232.0,537.6 L233.0,537.9 L234.0,538.1 L235.0,538.3 L236.0,538.4 L237.0,538.5 L238.0,538.6 L239.0,538.7 L240.0,538.7"/>
<path class="c" stroke="#36895A" d="M94.0,538.7 L95.0,538.7 L96.0,538.5 L97.0,538.3 L98.0,538.1 L99.0,537.8 L100.0,537.4 L101.0,537.0 L101.9,536.5 L102.9,535.8 L103.9,534.7 L104.9,533.2 L105.9,531.4 L106.9,529.4 L107.9,527.1 L108.9,524.7 L109.9,522.3 L110.9,519.8 L111.9,517.0 L112.9,513.7 L113.9,510.2 L114.9,506.3 L115.9,502.2 L116.9,497.7 L117.8,492.7 L118.8,487.3 L119.8,481.5 L120.8,475.5 L121.8,469.3 L122.8,463.1 L123.8,456.9 L124.8,450.5 L125.8,443.9 L126.8,436.8 L127.8,429.2 L128.8,420.5 L129.8,410.5 L130.8,400.3 L131.8,390.1 L132.8,379.8 L133.7,369.7 L134.7,359.4 L135.7,349.7 L136.7,341.5 L137.7,334.4 L138.7,327.2 L139.7,318.8 L140.7,310.1 L141.7,302.4 L142.7,294.8 L143.7,288.1 L144.7,283.9 L145.7,282.4 L146.7,281.1 L147.7,280.1 L148.6,279.4 L149.6,279.0 L150.6,278.9 L151.6,279.7 L152.6,281.3 L153.6,283.2 L154.6,286.3 L155.6,290.3 L156.6,294.5 L157.6,298.8 L158.6,303.7 L159.6,309.6 L160.6,317.8 L161.6,327.1 L162.6,336.9 L163.6,347.0 L164.5,356.7 L165.5,367.0 L166.5,379.5 L167.5,392.6 L168.5,402.8 L169.5,410.9 L170.5,417.9 L171.5,424.2 L172.5,430.2 L173.5,435.8 L174.5,441.2 L175.5,446.4 L176.5,451.2 L177.5,455.8 L178.5,460.1 L179.5,464.2 L180.4,468.2 L181.4,472.1 L182.4,475.9 L183.4,479.5 L184.4,483.1 L185.4,486.5 L186.4,489.7 L187.4,492.7 L188.4,495.6 L189.4,498.2 L190.4,500.7 L191.4,502.9 L192.4,505.0 L193.4,507.0 L194.4,508.9 L195.4,510.8 L196.3,512.5 L197.3,514.1 L198.3,515.7 L199.3,517.1 L200.3,518.4 L201.3,519.7 L202.3,520.8 L203.3,521.9 L204.3,522.9 L205.3,524.0 L206.3,525.0 L207.3,526.0 L208.3,526.9 L209.3,527.8 L210.3,528.7 L211.2,529.5 L212.2,530.2 L213.2,530.9 L214.2,531.5 L215.2,532.0 L216.2,532.4 L217.2,532.8 L218.2,533.0 L219.2,533.2 L220.2,533.4 L221.2,533.6 L222.2,533.7 L223.2,533.8 L224.2,533.9 L225.2,534.0 L226.2,534.1 L227.1,534.2 L228.1,534.3 L229.1,534.4 L230.1,534.5 L231.1,534.7 L232.1,534.8 L233.1,535.0 L234.1,535.3 L235.1,535.7 L236.1,536.1 L237.1,536.5 L238.1,536.9 L239.1,537.3 L240.1,537.5 L241.1,537.7 L242.1,537.9 L243.0,538.0 L244.0,538.2 L245.0,538.3 L246.0,538.5 L247.0,538.6 L248.0,538.6 L249.0,538.7 L250.0,538.7"/>
<path class="c" stroke="#C22E10" d="M92.0,538.7 L93.0,538.7 L94.0,538.5 L95.0,538.3 L96.0,538.1 L97.0,537.7 L98.0,537.4 L99.0,537.0 L100.0,536.5 L101.0,535.8 L102.0,534.8 L103.0,533.4 L104.0,531.8 L105.0,529.9 L106.0,527.8 L107.0,525.6 L108.0,523.3 L109.0,520.9 L109.9,518.3 L110.9,515.3 L111.9,512.0 L112.9,508.2 L113.9,504.1 L114.9,499.6 L115.9,494.4 L116.9,488.5 L117.9,482.0 L118.9,475.1 L119.9,467.7 L120.9,459.9 L121.9,451.2 L122.9,441.6 L123.9,431.2 L124.9,420.1 L125.9,407.6 L126.9,394.3 L127.9,381.3 L128.9,368.0 L129.9,355.1 L130.9,343.7 L131.9,332.6 L132.9,322.3 L133.9,313.8 L134.9,307.6 L135.9,302.5 L136.9,298.1 L137.9,294.6 L138.9,292.2 L139.9,290.7 L140.9,289.3 L141.9,288.2 L142.9,287.3 L143.9,286.8 L144.9,286.6 L145.8,287.2 L146.8,288.4 L147.8,290.3 L148.8,292.4 L149.8,294.9 L150.8,299.0 L151.8,304.5 L152.8,310.7 L153.8,317.0 L154.8,323.1 L155.8,329.8 L156.8,336.7 L157.8,343.5 L158.8,349.9 L159.8,356.0 L160.8,361.9 L161.8,367.7 L162.8,373.4 L163.8,379.3 L164.8,385.2 L165.8,391.5 L166.8,398.0 L167.8,404.6 L168.8,411.1 L169.8,417.5 L170.8,423.5 L171.8,429.2 L172.8,434.9 L173.8,440.5 L174.8,446.0 L175.8,451.1 L176.8,455.9 L177.8,460.3 L178.8,464.1 L179.8,467.7 L180.7,471.2 L181.7,474.4 L182.7,477.6 L183.7,480.6 L184.7,483.4 L185.7,486.2 L186.7,488.7 L187.7,491.1 L188.7,493.4 L189.7,495.5 L190.7,497.5 L191.7,499.3 L192.7,501.0 L193.7,502.6 L194.7,504.2 L195.7,505.6 L196.7,507.0 L197.7,508.3 L198.7,509.6 L199.7,510.9 L200.7,512.1 L201.7,513.3 L202.7,514.4 L203.7,515.6 L204.7,516.8 L205.7,518.1 L206.7,519.3 L207.7,520.5 L208.7,521.7 L209.7,522.7 L210.7,523.6 L211.7,524.3 L212.7,524.8 L213.7,525.2 L214.7,525.5 L215.6,525.8 L216.6,526.2 L217.6,526.6 L218.6,527.3 L219.6,528.1 L220.6,529.0 L221.6,529.9 L222.6,530.7 L223.6,531.4 L224.6,532.1 L225.6,532.8 L226.6,533.5 L227.6,534.2 L228.6,534.8 L229.6,535.3 L230.6,535.7 L231.6,535.9 L232.6,536.1 L233.6,536.2 L234.6,536.3 L235.6,536.4 L236.6,536.5 L237.6,536.6 L238.6,536.7 L239.6,536.7 L240.6,536.8 L241.6,536.8 L242.6,536.9 L243.6,536.9 L244.6,537.0 L245.6,537.0 L246.6,537.1 L247.6,537.1 L248.6,537.2 L249.6,537.3 L250.6,537.3 L251.5,537.4 L252.5,537.5 L253.5,537.6 L254.5,537.6 L255.5,537.7 L256.5,537.8 L257.5,537.9 L258.5,537.9 L259.5,538.0 L260.5,538.1 L261.5,538.2 L262.5,538.2 L263.5,538.3 L264.5,538.4 L265.5,538.5 L266.5,538.5 L267.5,538.6 L268.5,538.7"/>
<path class="c" stroke="#E5722A" d="M90.0,538.7 L91.0,538.7 L92.0,538.5 L93.0,538.3 L94.0,538.1 L95.0,537.8 L96.0,537.4 L97.0,537.0 L98.0,536.5 L98.9,535.9 L99.9,534.9 L100.9,533.6 L101.9,532.1 L102.9,530.3 L103.9,528.3 L104.9,526.2 L105.9,524.0 L106.9,521.7 L107.9,519.3 L108.9,516.6 L109.9,513.5 L110.9,510.1 L111.9,506.3 L112.9,502.2 L113.9,497.6 L114.9,492.4 L115.9,486.6 L116.8,480.3 L117.8,473.6 L118.8,466.6 L119.8,459.2 L120.8,451.0 L121.8,442.1 L122.8,432.6 L123.8,422.7 L124.8,411.6 L125.8,399.9 L126.8,388.7 L127.8,378.7 L128.8,369.0 L129.8,359.9 L130.8,351.5 L131.8,343.6 L132.8,335.9 L133.7,328.9 L134.7,323.2 L135.7,318.9 L136.7,315.1 L137.7,312.0 L138.7,309.5 L139.7,307.8 L140.7,306.3 L141.7,305.0 L142.7,304.1 L143.7,303.4 L144.7,302.9 L145.7,302.4 L146.7,302.1 L147.7,302.0 L148.7,302.5 L149.7,303.7 L150.7,305.4 L151.6,307.3 L152.6,310.5 L153.6,315.0 L154.6,320.1 L155.6,325.4 L156.6,331.6 L157.6,338.3 L158.6,344.9 L159.6,351.0 L160.6,356.8 L161.6,362.4 L162.6,367.9 L163.6,373.5 L164.6,379.2 L165.6,385.1 L166.6,391.3 L167.6,398.0 L168.5,404.9 L169.5,411.7 L170.5,418.3 L171.5,424.4 L172.5,430.1 L173.5,435.6 L174.5,441.0 L175.5,446.2 L176.5,451.1 L177.5,455.8 L178.5,460.2 L179.5,464.4 L180.5,468.3 L181.5,472.2 L182.5,476.0 L183.5,479.7 L184.5,483.2 L185.5,486.6 L186.4,489.8 L187.4,492.8 L188.4,495.7 L189.4,498.3 L190.4,500.7 L191.4,503.0 L192.4,505.1 L193.4,507.1 L194.4,509.0 L195.4,510.8 L196.4,512.5 L197.4,514.2 L198.4,515.7 L199.4,517.1 L200.4,518.5 L201.4,519.7 L202.4,520.9 L203.3,521.9 L204.3,522.9 L205.3,523.9 L206.3,524.8 L207.3,525.7 L208.3,526.5 L209.3,527.4 L210.3,528.1 L211.3,528.9 L212.3,529.6 L213.3,530.3 L214.3,530.9 L215.3,531.6 L216.3,532.2 L217.3,532.8 L218.3,533.4 L219.3,534.0 L220.3,534.5 L221.2,535.1 L222.2,535.6 L223.2,536.1 L224.2,536.6 L225.2,537.1 L226.2,537.5 L227.2,537.9 L228.2,538.3 L229.2,538.7"/>
<path class="c" stroke="#83656A" d="M87.0,538.7 L88.0,538.6 L89.0,538.5 L90.0,538.2 L91.0,537.8 L92.0,537.3 L93.0,536.8 L94.0,536.2 L95.0,535.5 L96.0,534.5 L97.0,532.9 L98.0,530.8 L99.0,528.2 L100.0,525.4 L100.9,522.5 L101.9,519.4 L102.9,515.8 L103.9,511.6 L104.9,506.8 L105.9,501.4 L106.9,495.0 L107.9,487.3 L108.9,478.5 L109.9,469.0 L110.9,458.9 L111.9,447.4 L112.9,434.5 L113.9,420.3 L114.9,403.7 L115.9,386.6 L116.9,369.3 L117.9,351.2 L118.9,334.1 L119.9,319.8 L120.9,309.5 L121.9,300.9 L122.9,293.4 L123.9,287.0 L124.9,281.7 L125.9,277.6 L126.9,273.8 L127.8,270.2 L128.8,267.2 L129.8,264.9 L130.8,263.6 L131.8,263.7 L132.8,265.0 L133.8,267.2 L134.8,270.1 L135.8,273.3 L136.8,276.7 L137.8,280.0 L138.8,283.4 L139.8,287.2 L140.8,291.4 L141.8,295.9 L142.8,301.0 L143.8,306.6 L144.8,313.1 L145.8,321.8 L146.8,331.7 L147.8,341.6 L148.8,350.1 L149.8,357.6 L150.8,364.5 L151.8,371.3 L152.8,378.1 L153.8,385.4 L154.7,393.4 L155.7,402.2 L156.7,411.1 L157.7,419.3 L158.7,426.3 L159.7,432.6 L160.7,438.5 L161.7,444.0 L162.7,449.2 L163.7,454.1 L164.7,458.6 L165.7,462.8 L166.7,466.7 L167.7,470.1 L168.7,473.3 L169.7,476.4 L170.7,479.5 L171.7,482.7 L172.7,486.1 L173.7,489.5 L174.7,492.9 L175.7,496.3 L176.7,499.6 L177.7,502.7 L178.7,506.0 L179.7,509.3 L180.7,512.5 L181.6,515.5 L182.6,518.1 L183.6,520.2 L184.6,521.8 L185.6,523.2 L186.6,524.5 L187.6,525.6 L188.6,526.7 L189.6,527.6 L190.6,528.5 L191.6,529.3 L192.6,529.9 L193.6,530.6 L194.6,531.2 L195.6,531.7 L196.6,532.2 L197.6,532.7 L198.6,533.2 L199.6,533.6 L200.6,534.0 L201.6,534.4 L202.6,534.8 L203.6,535.1 L204.6,535.4 L205.6,535.7 L206.6,535.9 L207.6,536.2 L208.5,536.5 L209.5,536.7 L210.5,537.0 L211.5,537.2 L212.5,537.4 L213.5,537.6 L214.5,537.8 L215.5,538.0 L216.5,538.2 L217.5,538.3 L218.5,538.4 L219.5,538.6 L220.5,538.6 L221.5,538.7"/>
<path class="c" stroke="#EBA0B2" d="M81.3,538.7 L82.3,538.6 L83.3,538.4 L84.3,538.0 L85.3,537.6 L86.3,537.0 L87.3,536.4 L88.3,535.8 L89.3,535.0 L90.3,533.8 L91.3,532.5 L92.3,531.1 L93.2,529.6 L94.2,528.1 L95.2,526.5 L96.2,524.6 L97.2,522.2 L98.2,518.8 L99.2,513.1 L100.2,506.2 L101.2,499.6 L102.2,493.2 L103.2,486.7 L104.2,479.9 L105.2,472.4 L106.2,464.2 L107.2,454.7 L108.2,443.8 L109.2,431.7 L110.2,418.2 L111.2,402.5 L112.2,385.4 L113.2,366.1 L114.2,345.1 L115.1,325.0 L116.1,307.6 L117.1,292.3 L118.1,278.0 L119.1,264.0 L120.1,249.2 L121.1,234.0 L122.1,221.5 L123.1,213.1 L124.1,205.8 L125.1,200.7 L126.1,199.3 L127.1,202.5 L128.1,209.0 L129.1,216.8 L130.1,225.2 L131.1,236.4 L132.1,248.9 L133.1,260.3 L134.1,269.6 L135.1,278.1 L136.1,286.1 L137.1,294.0 L138.0,302.2 L139.0,311.0 L140.0,320.4 L141.0,330.3 L142.0,340.3 L143.0,350.3 L144.0,360.6 L145.0,371.0 L146.0,381.0 L147.0,390.1 L148.0,398.6 L149.0,406.7 L150.0,414.4 L151.0,421.8 L152.0,429.1 L153.0,436.3 L154.0,443.5 L155.0,450.3 L156.0,456.5 L157.0,462.0 L158.0,466.8 L159.0,471.4 L159.9,475.9 L160.9,480.1 L161.9,484.1 L162.9,487.8 L163.9,491.3 L164.9,494.5 L165.9,497.3 L166.9,499.9 L167.9,502.0 L168.9,504.0 L169.9,505.9 L170.9,507.6 L171.9,509.2 L172.9,510.8 L173.9,512.2 L174.9,513.6 L175.9,514.8 L176.9,516.0 L177.9,517.2 L178.9,518.3 L179.9,519.4 L180.9,520.4 L181.9,521.5 L182.8,522.5 L183.8,523.5 L184.8,524.4 L185.8,525.4 L186.8,526.3 L187.8,527.1 L188.8,528.0 L189.8,528.7 L190.8,529.5 L191.8,530.2 L192.8,530.8 L193.8,531.4 L194.8,531.9 L195.8,532.4 L196.8,532.8 L197.8,533.3 L198.8,533.8 L199.8,534.2 L200.8,534.7 L201.8,535.1 L202.8,535.5 L203.8,535.9 L204.7,536.3 L205.7,536.6 L206.7,537.0 L207.7,537.3 L208.7,537.6 L209.7,537.8 L210.7,538.1 L211.7,538.3 L212.7,538.4 L213.7,538.6 L214.7,538.6 L215.7,538.7"/>
<rect class="k" x="53.4" y="73" width="540.5" height="483.3"/>
<path class="k" d="M73.5,556.3V576M173.5,556.3V576M273.5,556.3V576M373.6,556.3V576M473.6,556.3V576M573.6,556.3V576"/>
<text class="a" x="73.7" y="625">0.0</text>
<text class="a" x="173.7" y="625">0.2</text>
<text class="a" x="273.7" y="625">0.4</text>
<text class="a" x="373.8" y="625">0.6</text>
<text class="a" x="473.8" y="625">0.8</text>
<text class="a" x="573.8" y="625">1.0</text>
<text class="t" x="322.3" y="28">Macrophyte-only , state 2</text>
<text class="p" x="2.8" y="93.3">f</text>
<text class="a" transform="translate(27.3,313.6) rotate(-90)">Density</text>
<path class="c" stroke="#6B0F0F" d="M249.8,99.7H289.1"/>
<text class="l" x="307.9" y="107.7">Kelps</text>
<path class="c" stroke="#2e2e2e" d="M249.8,126.1H289.1"/>
<text class="l" x="307.9" y="134.1">Substrate</text>
<path class="c" stroke="#36895A" d="M249.8,152.6H289.1"/>
<text class="l" x="307.9" y="160.6">Surfgrasses</text>
<path class="c" stroke="#C22E10" d="M249.8,179.0H289.1"/>
<text class="l" x="307.9" y="187.0">Turf algae</text>
<path class="c" stroke="#E5722A" d="M249.8,205.4H289.1"/>
<text class="l" x="307.9" y="213.4">Branching and bladed algae</text>
<path class="c" stroke="#83656A" d="M249.8,231.9H289.1"/>
<text class="l" x="307.9" y="239.9">Crustose fleshy algae</text>
<path class="c" stroke="#EBA0B2" d="M249.8,258.3H289.1"/>
<text class="l" x="307.9" y="266.3">Crustose coralline algae</text>
</g>
<g transform="translate(0.0,2040.5)">
<path class="c" stroke="#2e2e2e" d="M205.5,538.4 L206.5,538.4 L207.5,538.3 L208.5,538.2 L209.5,538.2 L210.5,538.1 L211.5,538.0 L212.5,537.9 L213.5,537.8 L214.5,537.7 L215.5,537.6 L216.4,537.5 L217.4,537.4 L218.4,537.2 L219.4,537.1 L220.4,537.0 L221.4,536.8 L222.4,536.6 L223.4,536.5 L224.4,536.3 L225.4,536.1 L226.4,535.9 L227.4,535.6 L228.4,535.4 L229.4,535.2 L230.4,534.9 L231.4,534.6 L232.4,534.3 L233.4,534.0 L234.4,533.6 L235.4,533.2 L236.4,532.8 L237.3,532.3 L238.3,531.8 L239.3,531.2 L240.3,530.5 L241.3,529.8 L242.3,529.0 L243.3,528.2 L244.3,527.2 L245.3,526.1 L246.3,524.8 L247.3,523.2 L248.3,521.4 L249.3,519.5 L250.3,517.5 L251.3,515.4 L252.3,513.2 L253.3,510.7 L254.3,508.0 L255.3,505.3 L256.3,502.6 L257.2,499.9 L258.2,497.4 L259.2,495.1 L260.2,492.7 L261.2,490.4 L262.2,487.9 L263.2,485.1 L264.2,482.1 L265.2,478.8 L266.2,475.1 L267.2,471.0 L268.2,466.4 L269.2,461.1 L270.2,454.6 L271.2,447.6 L272.2,440.6 L273.2,433.9 L274.2,427.3 L275.2,421.1 L276.2,415.2 L277.2,409.7 L278.1,405.4 L279.1,402.2 L280.1,399.4 L281.1,397.0 L282.1,394.9 L283.1,393.2 L284.1,391.6 L285.1,390.3 L286.1,389.0 L287.1,387.8 L288.1,386.4 L289.1,384.9 L290.1,383.4 L291.1,381.8 L292.1,380.2 L293.1,378.4 L294.1,376.6 L295.1,374.6 L296.1,372.2 L297.1,369.8 L298.1,367.7 L299.0,366.1 L300.0,364.6 L301.0,363.6 L302.0,363.5 L303.0,364.2 L304.0,365.5 L305.0,366.8 L306.0,368.4 L307.0,370.5 L308.0,373.2 L309.0,377.6 L310.0,383.4 L311.0,389.7 L312.0,395.7 L313.0,401.8 L314.0,408.1 L315.0,414.1 L316.0,419.7 L317.0,425.1 L318.0,430.2 L319.0,434.8 L319.9,438.8 L320.9,442.5 L321.9,445.9 L322.9,449.2 L323.9,452.5 L324.9,455.8 L325.9,458.9 L326.9,462.0 L327.9,465.0 L328.9,468.0 L329.9,471.1 L330.9,474.2 L331.9,477.5 L332.9,480.7 L333.9,483.9 L334.9,487.1 L335.9,490.1 L336.9,492.9 L337.9,495.6 L338.9,498.3 L339.9,500.8 L340.8,503.3 L341.8,505.7 L342.8,508.0 L343.8,510.2 L344.8,512.3 L345.8,514.3 L346.8,516.4 L347.8,518.4 L348.8,520.2 L349.8,522.0 L350.8,523.7 L351.8,525.2 L352.8,526.5 L353.8,527.7 L354.8,528.9 L355.8,530.0 L356.8,531.1 L357.8,532.1 L358.8,533.0 L359.8,533.7 L360.7,534.4 L361.7,534.9 L362.7,535.3 L363.7,535.7 L364.7,536.0 L365.7,536.3 L366.7,536.6 L367.7,536.7 L368.7,536.9 L369.7,536.9 L370.7,536.9 L371.7,536.8 L372.7,536.8 L373.7,536.7 L374.7,536.7 L375.7,536.6 L376.7,536.6 L377.7,536.6 L378.7,536.7 L379.7,536.8 L380.7,537.0 L381.6,537.2 L382.6,537.4 L383.6,537.6 L384.6,537.8 L385.6,537.9 L386.6,538.0 L387.6,538.1 L388.6,538.2 L389.6,538.3 L390.6,538.4 L391.6,538.4"/>
<path class="c" stroke="#22C7B8" d="M88.0,538.4 L89.0,538.0 L90.0,536.9 L91.0,535.2 L92.0,533.0 L93.0,528.7 L94.0,522.0 L95.0,514.8 L96.0,506.8 L97.0,497.7 L98.0,487.4 L99.0,476.0 L100.0,463.2 L100.9,448.9 L101.9,432.1 L102.9,413.5 L103.9,394.3 L104.9,373.3 L105.9,350.6 L106.9,329.6 L107.9,313.2 L108.9,299.2 L109.9,286.9 L110.9,276.3 L111.9,267.5 L112.9,259.6 L113.9,252.5 L114.9,246.1 L115.9,240.7 L116.9,236.4 L117.9,232.8 L118.9,229.4 L119.9,226.6 L120.9,224.8 L121.9,224.7 L122.9,227.0 L123.8,231.3 L124.8,237.0 L125.8,247.5 L126.8,264.4 L127.8,279.5 L128.8,292.4 L129.8,305.0 L130.8,318.5 L131.8,332.9 L132.8,347.7 L133.8,362.4 L134.8,376.2 L135.8,389.3 L136.8,402.0 L137.8,415.0 L138.8,429.4 L139.8,443.8 L140.8,455.4 L141.8,464.2 L142.8,472.0 L143.8,479.0 L144.8,485.2 L145.8,490.9 L146.8,496.1 L147.8,501.0 L148.7,505.6 L149.7,509.9 L150.7,513.6 L151.7,516.8 L152.7,519.2 L153.7,521.3 L154.7,523.2 L155.7,525.0 L156.7,526.5 L157.7,527.9 L158.7,529.2 L159.7,530.2 L160.7,531.1 L161.7,531.8 L162.7,532.5 L163.7,533.2 L164.7,533.8 L165.7,534.3 L166.7,534.8 L167.7,535.2 L168.7,535.6 L169.7,535.9 L170.7,536.2 L171.6,536.4 L172.6,536.7 L173.6,537.0 L174.6,537.2 L175.6,537.4 L176.6,537.6 L177.6,537.8 L178.6,538.0 L179.6,538.1 L180.6,538.2 L181.6,538.3 L182.6,538.4 L183.6,538.4"/>
<path class="c" stroke="#3B90E8" d="M76.0,538.4 L77.0,538.0 L78.0,536.8 L79.0,535.0 L80.0,532.5 L81.0,527.4 L82.0,520.5 L83.0,512.4 L84.0,502.0 L85.0,490.7 L86.0,478.7 L87.0,465.1 L88.0,449.6 L89.0,431.6 L90.0,410.7 L91.0,386.0 L92.0,354.1 L93.0,318.2 L94.0,280.4 L95.0,245.5 L95.9,221.0 L96.9,198.0 L97.9,173.3 L98.9,149.8 L99.9,130.6 L100.9,117.4 L101.9,106.8 L102.9,95.6 L103.9,90.6 L104.9,97.1 L105.9,108.6 L106.9,126.3 L107.9,143.7 L108.9,161.8 L109.9,182.4 L110.9,203.0 L111.9,223.1 L112.9,242.8 L113.9,261.8 L114.9,285.5 L115.9,315.4 L116.9,347.6 L117.9,373.9 L118.9,391.1 L119.9,405.1 L120.9,419.5 L121.9,434.3 L122.9,448.2 L123.9,459.6 L124.9,469.7 L125.9,478.9 L126.9,487.1 L127.9,494.4 L128.9,500.8 L129.9,506.5 L130.9,511.6 L131.9,516.0 L132.9,519.9 L133.8,523.4 L134.8,526.5 L135.8,529.1 L136.8,531.2 L137.8,533.1 L138.8,534.7 L139.8,535.5 L140.8,535.1 L141.8,533.8 L142.8,532.4 L143.8,531.7 L144.8,532.5 L145.8,534.3 L146.8,535.8 L147.8,536.6 L148.8,537.3 L149.8,537.9 L150.8,538.3 L151.8,538.4"/>
<path class="c" stroke="#83656A" d="M114.7,538.4 L115.7,538.3 L116.7,538.2 L117.7,538.0 L118.7,537.7 L119.7,537.4 L120.7,537.0 L121.7,536.6 L122.7,536.2 L123.7,535.7 L124.7,535.0 L125.7,534.2 L126.7,533.4 L127.7,532.4 L128.7,531.4 L129.7,530.3 L130.6,529.0 L131.6,527.5 L132.6,525.8 L133.6,524.0 L134.6,522.1 L135.6,520.1 L136.6,518.1 L137.6,516.1 L138.6,514.0 L139.6,511.7 L140.6,509.4 L141.6,506.9 L142.6,504.3 L143.6,501.5 L144.6,498.5 L145.6,495.3 L146.6,491.6 L147.6,487.5 L148.6,483.2 L149.6,478.5 L150.6,473.7 L151.6,468.8 L152.6,463.9 L153.6,459.1 L154.6,454.3 L155.6,449.6 L156.6,444.8 L157.6,439.9 L158.6,435.0 L159.6,430.1 L160.6,425.0 L161.6,419.9 L162.5,414.6 L163.5,409.2 L164.5,403.7 L165.5,398.0 L166.5,392.3 L167.5,386.5 L168.5,380.6 L169.5,374.8 L170.5,369.0 L171.5,362.7 L172.5,356.4 L173.5,350.6 L174.5,346.0 L175.5,341.9 L176.5,338.0 L177.5,335.3 L178.5,334.5 L179.5,335.6 L180.5,337.9 L181.5,340.8 L182.5,343.9 L183.5,346.7 L184.5,349.1 L185.5,351.5 L186.5,353.9 L187.5,356.4 L188.5,358.8 L189.5,361.1 L190.5,363.3 L191.5,365.4 L192.5,367.7 L193.4,370.4 L194.4,373.7 L195.4,378.1 L196.4,383.2 L197.4,388.6 L198.4,394.5 L199.4,401.0 L200.4,407.6 L201.4,414.7 L202.4,422.7 L203.4,431.4 L204.4,440.1 L205.4,448.2 L206.4,455.1 L207.4,460.8 L208.4,466.1 L209.4,471.1 L210.4,475.7 L211.4,480.1 L212.4,484.3 L213.4,488.2 L214.4,491.9 L215.4,495.5 L216.4,498.9 L217.4,502.4 L218.4,505.7 L219.4,508.9 L220.4,511.9 L221.4,514.5 L222.4,516.7 L223.4,518.4 L224.4,519.9 L225.3,521.3 L226.3,522.6 L227.3,523.7 L228.3,524.8 L229.3,525.8 L230.3,526.8 L231.3,527.6 L232.3,528.4 L233.3,529.2 L234.3,529.9 L235.3,530.5 L236.3,531.1 L237.3,531.6 L238.3,532.2 L239.3,532.7 L240.3,533.2 L241.3,533.7 L242.3,534.1 L243.3,534.6 L244.3,535.0 L245.3,535.3 L246.3,535.6 L247.3,535.9 L248.3,536.2 L249.3,536.4 L250.3,536.5 L251.3,536.7 L252.3,536.8 L253.3,537.0 L254.3,537.1 L255.3,537.2 L256.3,537.3 L257.2,537.5 L258.2,537.6 L259.2,537.7 L260.2,537.8 L261.2,537.9 L262.2,538.0 L263.2,538.0 L264.2,538.1 L265.2,538.2 L266.2,538.2 L267.2,538.3 L268.2,538.3 L269.2,538.4 L270.2,538.4 L271.2,538.4 L272.2,538.4"/>
<path class="c" stroke="#EBA0B2" d="M87.6,538.4 L88.6,537.8 L89.6,536.2 L90.6,534.0 L91.6,531.0 L92.6,526.0 L93.6,519.6 L94.6,512.6 L95.6,504.1 L96.6,494.8 L97.6,485.0 L98.6,474.4 L99.6,462.6 L100.6,449.2 L101.5,433.4 L102.5,415.8 L103.5,397.7 L104.5,378.5 L105.5,356.8 L106.5,335.7 L107.5,318.7 L108.5,307.7 L109.5,299.5 L110.5,292.8 L111.5,286.3 L112.5,278.9 L113.5,269.8 L114.5,259.5 L115.5,249.5 L116.5,241.1 L117.5,235.4 L118.5,230.2 L119.5,225.9 L120.5,223.3 L121.5,223.5 L122.5,228.0 L123.5,235.4 L124.5,245.9 L125.5,265.1 L126.5,281.7 L127.5,293.5 L128.5,304.2 L129.4,315.9 L130.4,329.9 L131.4,344.9 L132.4,359.3 L133.4,371.4 L134.4,381.0 L135.4,389.3 L136.4,396.8 L137.4,404.1 L138.4,411.6 L139.4,419.7 L140.4,428.2 L141.4,436.7 L142.4,444.9 L143.4,452.3 L144.4,458.7 L145.4,464.8 L146.4,470.7 L147.4,476.3 L148.4,481.6 L149.4,486.4 L150.4,490.7 L151.4,494.4 L152.4,497.5 L153.4,499.8 L154.4,501.7 L155.4,503.4 L156.4,505.2 L157.3,507.3 L158.3,510.4 L159.3,514.1 L160.3,517.5 L161.3,519.9 L162.3,522.1 L163.3,524.0 L164.3,525.8 L165.3,527.3 L166.3,528.5 L167.3,529.3 L168.3,530.1 L169.3,530.8 L170.3,531.5 L171.3,532.1 L172.3,532.6 L173.3,533.1 L174.3,533.6 L175.3,534.0 L176.3,534.4 L177.3,534.7 L178.3,535.0 L179.3,535.3 L180.3,535.6 L181.3,535.8 L182.3,536.1 L183.3,536.3 L184.3,536.5 L185.2,536.7 L186.2,537.0 L187.2,537.2 L188.2,537.4 L189.2,537.5 L190.2,537.7 L191.2,537.9 L192.2,538.0 L193.2,538.1 L194.2,538.2 L195.2,538.3 L196.2,538.4 L197.2,538.4 L198.2,538.4"/>
<path class="c" stroke="#3F55C8" d="M81.3,538.9 L82.3,538.7 L83.3,538.1 L84.3,536.7 L85.3,534.4 L86.3,530.8 L87.3,525.8 L88.3,519.4 L89.3,512.0 L90.3,504.3 L91.3,496.0 L92.3,486.3 L93.3,475.0 L94.3,462.0 L95.3,447.4 L96.3,431.0 L97.3,413.1 L98.3,393.6 L99.3,372.8 L100.3,350.9 L101.3,328.4 L102.3,305.4 L103.3,282.7 L104.3,260.5 L105.3,239.4 L106.3,220.0 L107.3,202.8 L108.3,188.2 L109.3,176.6 L110.3,168.4 L111.3,163.7 L112.3,162.7 L113.3,165.4 L114.3,171.6 L115.3,181.3 L116.3,193.9 L117.3,209.2 L118.3,226.6 L119.3,245.7 L120.3,265.9 L121.3,286.7 L122.3,307.6 L123.3,328.2 L124.3,348.1 L125.3,366.9 L126.3,384.4 L127.3,400.5 L128.2,415.1 L129.2,428.1 L130.2,439.5 L131.2,449.5 L132.2,458.2 L133.2,465.7 L134.2,472.2 L135.2,477.8 L136.2,482.7 L137.2,487.0 L138.2,490.8 L139.2,494.2 L140.2,497.4 L141.2,500.3 L142.2,503.1 L143.2,505.8 L144.2,508.4 L145.2,510.9 L146.2,513.3 L147.2,515.7 L148.2,518.0 L149.2,520.2 L150.2,522.2 L151.2,524.2 L152.2,526.0 L153.2,527.7 L154.2,529.2 L155.2,530.6 L156.2,531.9 L157.2,533.0 L158.2,534.0 L159.2,534.8 L160.2,535.5 L161.2,536.2 L162.2,536.7 L163.2,537.1 L164.2,537.5 L165.2,537.8 L166.2,538.0 L167.2,538.2 L168.2,538.4 L169.2,538.6 L170.2,538.7 L171.2,538.8 L172.2,538.9 L173.2,538.9 L174.2,538.9 L175.2,538.9"/>
<rect class="k" x="53.4" y="73" width="540.5" height="483.3"/>
<path class="k" d="M73.5,556.3V576M173.5,556.3V576M273.5,556.3V576M373.6,556.3V576M473.6,556.3V576M573.6,556.3V576"/>
<text class="a" x="73.7" y="625">0.0</text>
<text class="a" x="173.7" y="625">0.2</text>
<text class="a" x="273.7" y="625">0.4</text>
<text class="a" x="373.8" y="625">0.6</text>
<text class="a" x="473.8" y="625">0.8</text>
<text class="a" x="573.8" y="625">1.0</text>
<text class="t" x="322.3" y="28">Invertebrate-only , state 1</text>
<text class="p" x="0.8" y="93.3">g</text>
<text class="a" transform="translate(27.3,313.6) rotate(-90)">Density</text>
<path class="c" stroke="#2e2e2e" d="M287.9,99.7H326.9"/>
<text class="l" x="346.8" y="107.7">Substrate</text>
<path class="c" stroke="#22C7B8" d="M287.9,126.1H326.9"/>
<text class="l" x="346.8" y="134.1">Acorn barnacles</text>
<path class="c" stroke="#3B90E8" d="M287.9,152.6H326.9"/>
<text class="l" x="346.8" y="160.6">Gooseneck barnacles</text>
<path class="c" stroke="#83656A" d="M287.9,179.0H326.9"/>
<text class="l" x="346.8" y="187.0">Crustose fleshy algae</text>
<path class="c" stroke="#EBA0B2" d="M287.9,205.4H326.9"/>
<text class="l" x="346.8" y="213.4">Crustose coralline algae</text>
<path class="c" stroke="#3F55C8" d="M287.9,231.9H326.9"/>
<text class="l" x="346.8" y="239.9">Mussels</text>
<text class="a" x="322.8" y="661.1">Conditional probability</text>
</g>
<g transform="translate(661.3,2040.5)">
<path class="c" stroke="#2e2e2e" d="M117.6,538.4 L118.6,538.4 L119.6,538.3 L120.6,538.1 L121.6,537.9 L122.6,537.6 L123.6,537.3 L124.6,537.0 L125.6,536.6 L126.6,536.3 L127.6,535.8 L128.6,535.3 L129.6,534.6 L130.6,533.9 L131.6,533.1 L132.6,532.3 L133.6,531.4 L134.6,530.5 L135.6,529.4 L136.6,528.2 L137.5,526.9 L138.5,525.5 L139.5,523.9 L140.5,522.2 L141.5,520.3 L142.5,518.3 L143.5,515.9 L144.5,512.9 L145.5,509.5 L146.5,505.9 L147.5,502.2 L148.5,498.6 L149.5,495.3 L150.5,492.2 L151.5,489.2 L152.5,486.1 L153.5,482.7 L154.5,478.9 L155.5,474.5 L156.5,469.3 L157.5,463.3 L158.5,456.7 L159.5,449.5 L160.5,441.9 L161.5,434.0 L162.5,425.1 L163.5,415.1 L164.5,404.6 L165.5,394.2 L166.5,384.3 L167.5,374.6 L168.5,364.5 L169.5,353.8 L170.5,341.5 L171.5,327.4 L172.5,314.3 L173.5,304.2 L174.5,295.9 L175.5,288.4 L176.5,280.9 L177.4,272.9 L178.4,264.6 L179.4,256.4 L180.4,248.2 L181.4,240.5 L182.4,233.3 L183.4,225.9 L184.4,218.7 L185.4,211.9 L186.4,205.9 L187.4,201.1 L188.4,197.3 L189.4,193.6 L190.4,190.2 L191.4,187.4 L192.4,185.4 L193.4,184.4 L194.4,184.9 L195.4,187.4 L196.4,191.3 L197.4,196.1 L198.4,201.2 L199.4,205.9 L200.4,210.8 L201.4,216.3 L202.4,222.1 L203.4,228.0 L204.4,234.0 L205.4,239.7 L206.4,245.5 L207.4,251.3 L208.4,257.2 L209.4,263.1 L210.4,269.2 L211.4,275.4 L212.4,281.8 L213.4,288.4 L214.4,295.1 L215.4,302.0 L216.4,309.2 L217.3,316.6 L218.3,324.5 L219.3,332.7 L220.3,341.1 L221.3,349.8 L222.3,358.6 L223.3,367.8 L224.3,377.2 L225.3,386.6 L226.3,396.2 L227.3,406.4 L228.3,416.8 L229.3,426.5 L230.3,434.8 L231.3,441.8 L232.3,448.1 L233.3,453.8 L234.3,459.3 L235.3,464.5 L236.3,469.6 L237.3,474.8 L238.3,480.1 L239.3,485.4 L240.3,490.6 L241.3,495.4 L242.3,499.9 L243.3,504.3 L244.3,508.5 L245.3,512.4 L246.3,515.9 L247.3,519.0 L248.3,522.0 L249.3,524.9 L250.3,527.4 L251.3,529.4 L252.3,530.8 L253.3,531.7 L254.3,532.5 L255.3,533.2 L256.3,533.8 L257.2,534.4 L258.2,534.8 L259.2,535.2 L260.2,535.6 L261.2,535.9 L262.2,536.2 L263.2,536.4 L264.2,536.7 L265.2,536.9 L266.2,537.1 L267.2,537.4 L268.2,537.6 L269.2,537.7 L270.2,537.9 L271.2,538.0 L272.2,538.2 L273.2,538.3 L274.2,538.3 L275.2,538.4 L276.2,538.4"/>
<path class="c" stroke="#22C7B8" d="M84.0,538.4 L85.0,538.4 L86.0,538.2 L87.0,538.1 L88.0,537.8 L89.0,537.5 L90.0,537.2 L91.0,536.8 L91.9,536.4 L92.9,536.0 L93.9,535.5 L94.9,534.9 L95.9,534.2 L96.9,533.2 L97.9,532.1 L98.9,530.8 L99.9,529.0 L100.9,526.2 L101.9,522.7 L102.9,518.7 L103.9,514.0 L104.9,508.0 L105.9,501.4 L106.8,495.1 L107.8,489.1 L108.8,482.7 L109.8,475.4 L110.8,466.6 L111.8,456.7 L112.8,445.9 L113.8,434.7 L114.8,422.8 L115.8,410.0 L116.8,396.2 L117.8,380.7 L118.8,363.6 L119.8,346.8 L120.8,329.7 L121.8,314.6 L122.7,303.4 L123.7,294.0 L124.7,284.9 L125.7,274.7 L126.7,263.3 L127.7,251.5 L128.7,239.8 L129.7,228.3 L130.7,216.7 L131.7,205.4 L132.7,194.9 L133.7,185.0 L134.7,175.2 L135.7,166.1 L136.7,158.3 L137.6,152.2 L138.6,146.9 L139.6,141.8 L140.6,137.2 L141.6,133.6 L142.6,131.2 L143.6,130.5 L144.6,131.8 L145.6,134.8 L146.6,139.1 L147.6,144.2 L148.6,149.8 L149.6,155.4 L150.6,161.8 L151.6,169.6 L152.5,178.2 L153.5,186.8 L154.5,195.0 L155.5,202.4 L156.5,209.6 L157.5,216.7 L158.5,224.1 L159.5,232.1 L160.5,240.9 L161.5,250.6 L162.5,261.1 L163.5,272.2 L164.5,283.9 L165.5,297.0 L166.5,310.3 L167.4,322.3 L168.4,333.1 L169.4,343.3 L170.4,353.6 L171.4,363.9 L172.4,374.2 L173.4,384.3 L174.4,394.0 L175.4,403.7 L176.4,413.6 L177.4,422.8 L178.4,430.7 L179.4,436.8 L180.4,441.8 L181.4,446.3 L182.3,450.3 L183.3,454.0 L184.3,457.5 L185.3,460.9 L186.3,464.4 L187.3,467.9 L188.3,471.4 L189.3,474.7 L190.3,477.9 L191.3,480.9 L192.3,483.8 L193.3,486.5 L194.3,489.1 L195.3,491.5 L196.3,493.9 L197.2,496.3 L198.2,498.6 L199.2,500.8 L200.2,503.0 L201.2,505.1 L202.2,507.2 L203.2,509.3 L204.2,511.4 L205.2,513.8 L206.2,516.2 L207.2,518.6 L208.2,520.8 L209.2,522.7 L210.2,524.2 L211.2,525.5 L212.2,526.6 L213.1,527.7 L214.1,528.7 L215.1,529.6 L216.1,530.4 L217.1,531.2 L218.1,531.9 L219.1,532.5 L220.1,533.1 L221.1,533.6 L222.1,534.1 L223.1,534.6 L224.1,535.1 L225.1,535.6 L226.1,536.0 L227.1,536.4 L228.0,536.8 L229.0,537.2 L230.0,537.5 L231.0,537.8 L232.0,538.0 L233.0,538.2 L234.0,538.3 L235.0,538.4"/>
<path class="c" stroke="#3B90E8" d="M82.1,538.4 L83.1,538.3 L84.1,538.2 L85.1,538.0 L86.1,537.6 L87.1,537.3 L88.1,536.9 L89.1,536.4 L90.1,536.0 L91.1,535.4 L92.1,534.7 L93.1,533.8 L94.1,532.8 L95.1,531.6 L96.1,530.1 L97.1,527.8 L98.1,524.7 L99.1,521.1 L100.1,517.0 L101.1,512.0 L102.1,506.0 L103.1,499.5 L104.1,492.6 L105.1,485.0 L106.1,476.7 L107.1,468.0 L108.1,458.8 L109.1,448.8 L110.1,437.6 L111.1,424.3 L112.1,408.5 L113.1,392.1 L114.1,375.4 L115.1,358.4 L116.1,342.6 L117.0,327.5 L118.0,313.3 L119.0,300.1 L120.0,287.6 L121.0,275.1 L122.0,262.8 L123.0,250.6 L124.0,238.4 L125.0,225.9 L126.0,213.3 L127.0,201.1 L128.0,189.9 L129.0,178.9 L130.0,168.5 L131.0,159.4 L132.0,152.0 L133.0,145.3 L134.0,139.8 L135.0,135.9 L136.0,133.2 L137.0,130.9 L138.0,129.4 L139.0,129.1 L140.0,130.7 L141.0,134.2 L142.0,138.9 L143.0,144.4 L144.0,150.1 L145.0,156.9 L146.0,165.7 L147.0,175.6 L148.0,185.5 L149.0,194.7 L150.0,202.8 L151.0,210.3 L152.0,217.8 L153.0,226.0 L154.0,235.3 L155.0,247.1 L156.0,261.2 L157.0,275.4 L158.0,288.9 L159.0,302.2 L160.0,313.9 L161.0,323.3 L162.0,331.6 L163.0,339.3 L164.0,347.0 L165.0,355.3 L166.0,363.9 L167.0,372.5 L168.0,381.0 L169.0,389.1 L170.0,396.4 L171.0,403.2 L172.0,409.6 L173.0,415.8 L174.0,422.0 L175.0,428.1 L176.0,434.5 L177.0,441.2 L178.0,448.3 L179.0,455.4 L180.0,462.4 L181.0,468.9 L182.0,474.6 L183.0,479.6 L184.0,484.0 L185.0,488.1 L186.0,491.9 L186.9,495.4 L187.9,498.8 L188.9,502.2 L189.9,505.5 L190.9,508.6 L191.9,511.6 L192.9,514.2 L193.9,516.5 L194.9,518.4 L195.9,520.1 L196.9,521.7 L197.9,523.1 L198.9,524.5 L199.9,525.7 L200.9,526.9 L201.9,527.9 L202.9,528.9 L203.9,529.7 L204.9,530.5 L205.9,531.2 L206.9,531.9 L207.9,532.6 L208.9,533.2 L209.9,533.9 L210.9,534.5 L211.9,535.1 L212.9,535.6 L213.9,536.2 L214.9,536.6 L215.9,537.1 L216.9,537.5 L217.9,537.8 L218.9,538.0 L219.9,538.2 L220.9,538.4 L221.9,538.4"/>
<path class="c" stroke="#83656A" d="M82.0,538.4 L83.0,538.4 L84.0,538.4 L85.0,538.3 L86.0,538.2 L87.0,538.2 L88.0,538.1 L89.0,537.9 L90.0,537.8 L91.0,537.7 L91.9,537.5 L92.9,537.4 L93.9,537.2 L94.9,537.0 L95.9,536.8 L96.9,536.5 L97.9,536.1 L98.9,535.7 L99.9,535.2 L100.9,534.7 L101.9,534.2 L102.9,533.6 L103.9,533.1 L104.9,532.3 L105.9,531.4 L106.9,530.6 L107.9,530.0 L108.9,529.9 L109.9,529.8 L110.9,529.7 L111.8,529.5 L112.8,529.0 L113.8,527.8 L114.8,526.3 L115.8,524.2 L116.8,521.2 L117.8,517.3 L118.8,511.6 L119.8,504.4 L120.8,496.5 L121.8,486.9 L122.8,476.5 L123.8,466.9 L124.8,457.5 L125.8,447.8 L126.8,437.3 L127.8,425.3 L128.8,411.7 L129.8,397.7 L130.7,384.3 L131.7,370.8 L132.7,357.4 L133.7,343.9 L134.7,329.8 L135.7,316.5 L136.7,304.9 L137.7,294.7 L138.7,285.3 L139.7,276.4 L140.7,267.8 L141.7,259.5 L142.7,251.6 L143.7,243.9 L144.7,236.6 L145.7,229.6 L146.7,223.2 L147.7,217.0 L148.7,210.7 L149.7,204.3 L150.6,197.3 L151.6,189.4 L152.6,179.9 L153.6,170.3 L154.6,162.3 L155.6,156.5 L156.6,151.3 L157.6,147.6 L158.6,146.9 L159.6,149.8 L160.6,154.9 L161.6,160.5 L162.6,167.0 L163.6,175.0 L164.6,184.3 L165.6,194.4 L166.6,206.5 L167.6,220.6 L168.6,234.5 L169.5,247.2 L170.5,259.5 L171.5,271.1 L172.5,281.6 L173.5,291.3 L174.5,300.4 L175.5,308.8 L176.5,316.2 L177.5,322.8 L178.5,328.7 L179.5,334.3 L180.5,339.9 L181.5,345.8 L182.5,352.5 L183.5,359.9 L184.5,367.9 L185.5,376.1 L186.5,384.5 L187.5,392.6 L188.5,400.9 L189.4,409.4 L190.4,417.8 L191.4,425.8 L192.4,433.0 L193.4,439.2 L194.4,445.0 L195.4,450.5 L196.4,455.8 L197.4,460.7 L198.4,465.4 L199.4,469.8 L200.4,473.9 L201.4,477.9 L202.4,481.6 L203.4,485.0 L204.4,488.2 L205.4,491.4 L206.4,494.4 L207.4,497.5 L208.3,500.6 L209.3,503.8 L210.3,507.0 L211.3,510.0 L212.3,512.9 L213.3,515.5 L214.3,517.7 L215.3,519.5 L216.3,521.3 L217.3,522.9 L218.3,524.5 L219.3,525.9 L220.3,527.3 L221.3,528.4 L222.3,529.4 L223.3,530.2 L224.3,530.8 L225.3,531.4 L226.3,531.9 L227.3,532.4 L228.2,532.8 L229.2,533.2 L230.2,533.6 L231.2,534.0 L232.2,534.3 L233.2,534.6 L234.2,534.9 L235.2,535.1 L236.2,535.4 L237.2,535.6 L238.2,535.7 L239.2,535.9 L240.2,536.0 L241.2,536.1 L242.2,536.3 L243.2,536.4 L244.2,536.5 L245.2,536.6 L246.2,536.7 L247.1,536.8 L248.1,536.9 L249.1,537.0 L250.1,537.1 L251.1,537.2 L252.1,537.3 L253.1,537.4 L254.1,537.5 L255.1,537.5 L256.1,537.6 L257.1,537.7 L258.1,537.8 L259.1,537.8 L260.1,537.9 L261.1,537.9 L262.1,538.0 L263.1,538.1 L264.1,538.1 L265.1,538.2 L266.1,538.2 L267.0,538.2 L268.0,538.3 L269.0,538.3 L270.0,538.3 L271.0,538.3 L272.0,538.4 L273.0,538.4 L274.0,538.4 L275.0,538.4 L276.0,538.4"/>
<path class="c" stroke="#EBA0B2" d="M83.0,538.4 L84.0,538.4 L85.0,538.2 L86.0,538.1 L87.0,537.8 L88.0,537.5 L89.0,537.2 L90.0,536.8 L91.0,536.4 L92.0,536.0 L93.0,535.5 L94.0,534.9 L95.0,534.1 L96.0,533.1 L97.0,532.0 L98.0,530.7 L99.0,529.0 L100.0,526.6 L101.0,523.6 L102.0,520.1 L103.0,516.1 L104.0,510.5 L105.0,504.0 L106.0,497.4 L107.0,491.3 L108.0,485.1 L109.0,478.1 L110.0,469.8 L111.0,460.2 L112.0,449.7 L113.0,438.5 L114.0,426.8 L115.0,414.2 L116.0,400.7 L117.0,385.8 L118.0,368.9 L119.0,351.8 L120.0,334.7 L121.0,318.5 L122.0,306.3 L123.0,296.5 L124.0,287.5 L125.0,277.6 L126.0,266.3 L127.0,254.6 L128.0,242.7 L129.0,231.1 L130.0,219.4 L131.0,207.9 L132.0,197.2 L133.0,187.2 L134.0,177.3 L134.9,167.9 L135.9,159.7 L136.9,153.3 L137.9,148.0 L138.9,142.8 L139.9,138.2 L140.9,134.7 L141.9,132.5 L142.9,132.3 L143.9,134.2 L144.9,138.1 L145.9,143.2 L146.9,148.9 L147.9,154.7 L148.9,161.0 L149.9,168.6 L150.9,177.1 L151.9,185.8 L152.9,194.2 L153.9,201.9 L154.9,209.4 L155.9,217.0 L156.9,224.8 L157.9,233.1 L158.9,242.1 L159.9,251.7 L160.9,262.0 L161.9,272.8 L162.9,284.5 L163.9,297.8 L164.9,311.2 L165.9,323.1 L166.9,333.5 L167.9,343.4 L168.9,353.4 L169.9,363.6 L170.9,373.7 L171.9,383.6 L172.9,393.1 L173.9,402.4 L174.9,411.5 L175.9,420.3 L176.9,428.6 L177.9,436.2 L178.9,443.5 L179.9,450.6 L180.9,457.4 L181.9,463.7 L182.9,469.5 L183.9,474.6 L184.9,479.0 L185.9,483.1 L186.9,486.9 L187.9,490.3 L188.9,493.3 L189.9,496.0 L190.9,498.1 L191.9,500.0 L192.9,501.6 L193.9,503.0 L194.9,504.4 L195.9,505.6 L196.9,506.9 L197.9,508.2 L198.9,509.6 L199.9,511.2 L200.9,512.8 L201.9,514.5 L202.9,516.1 L203.9,517.7 L204.9,519.3 L205.9,520.7 L206.9,521.9 L207.9,523.0 L208.9,524.0 L209.9,524.9 L210.9,525.8 L211.9,526.6 L212.9,527.4 L213.9,528.2 L214.9,528.9 L215.9,529.5 L216.9,530.2 L217.9,530.8 L218.9,531.4 L219.9,532.1 L220.9,532.7 L221.9,533.3 L222.9,533.9 L223.9,534.4 L224.9,534.9 L225.9,535.3 L226.9,535.6 L227.9,535.8 L228.9,536.0 L229.9,536.1 L230.9,536.3 L231.9,536.4 L232.9,536.5 L233.9,536.6 L234.9,536.7 L235.9,536.8 L236.9,536.9 L237.9,537.0 L238.8,537.1 L239.8,537.1 L240.8,537.2 L241.8,537.3 L242.8,537.3 L243.8,537.4 L244.8,537.4 L245.8,537.4 L246.8,537.5 L247.8,537.5 L248.8,537.5 L249.8,537.5 L250.8,537.5 L251.8,537.5 L252.8,537.5 L253.8,537.4 L254.8,537.4 L255.8,537.3 L256.8,537.2 L257.8,537.2 L258.8,537.1 L259.8,537.0 L260.8,536.9 L261.8,536.9 L262.8,536.8 L263.8,536.7 L264.8,536.6 L265.8,536.5 L266.8,536.4 L267.8,536.4 L268.8,536.3 L269.8,536.2 L270.8,536.2 L271.8,536.1 L272.8,536.1 L273.8,536.0 L274.8,536.0 L275.8,536.0 L276.8,536.0 L277.8,536.1 L278.8,536.1 L279.8,536.2 L280.8,536.3 L281.8,536.5 L282.8,536.6 L283.8,536.8 L284.8,537.0 L285.8,537.2 L286.8,537.5 L287.8,537.7 L288.8,537.9 L289.8,538.2 L290.8,538.4"/>
<path class="c" stroke="#3F55C8" d="M87.3,538.4 L88.3,538.3 L89.3,538.0 L90.3,537.7 L91.3,537.3 L92.3,536.9 L93.3,536.4 L94.3,535.9 L95.3,535.2 L96.3,534.5 L97.3,533.6 L98.3,532.6 L99.3,531.4 L100.2,530.1 L101.2,528.3 L102.2,526.1 L103.2,523.5 L104.2,520.6 L105.2,517.4 L106.2,513.3 L107.2,508.4 L108.2,502.9 L109.2,497.2 L110.2,491.2 L111.2,484.6 L112.2,477.2 L113.2,468.8 L114.2,459.4 L115.2,449.1 L116.2,438.2 L117.2,426.5 L118.2,413.6 L119.2,400.0 L120.2,387.0 L121.2,375.2 L122.2,361.9 L123.2,342.6 L124.2,314.8 L125.2,299.6 L126.1,288.0 L127.1,276.4 L128.1,264.2 L129.1,252.3 L130.1,240.6 L131.1,229.4 L132.1,218.8 L133.1,208.2 L134.1,196.9 L135.1,184.2 L136.1,170.4 L137.1,156.8 L138.1,143.8 L139.1,130.7 L140.1,118.6 L141.1,109.3 L142.1,101.2 L143.1,94.2 L144.1,90.5 L145.1,92.5 L146.1,99.7 L147.1,108.6 L148.1,121.0 L149.1,133.8 L150.1,144.1 L151.1,153.5 L152.0,162.7 L153.0,171.8 L154.0,180.5 L155.0,188.0 L156.0,193.9 L157.0,197.7 L158.0,200.4 L159.0,203.7 L160.0,210.0 L161.0,220.3 L162.0,232.0 L163.0,243.1 L164.0,254.7 L165.0,266.5 L166.0,278.1 L167.0,289.2 L168.0,300.2 L169.0,311.4 L170.0,323.5 L171.0,336.1 L172.0,348.5 L173.0,360.0 L174.0,371.2 L175.0,382.0 L176.0,392.5 L176.9,403.0 L177.9,413.5 L178.9,423.5 L179.9,432.5 L180.9,440.6 L181.9,448.2 L182.9,455.4 L183.9,462.1 L184.9,468.3 L185.9,473.9 L186.9,478.9 L187.9,483.4 L188.9,487.5 L189.9,491.3 L190.9,494.9 L191.9,498.3 L192.9,501.6 L193.9,504.9 L194.9,508.0 L195.9,510.9 L196.9,513.6 L197.9,516.0 L198.9,518.0 L199.9,519.6 L200.9,521.2 L201.9,522.7 L202.8,524.1 L203.8,525.4 L204.8,526.6 L205.8,527.7 L206.8,528.7 L207.8,529.6 L208.8,530.3 L209.8,531.0 L210.8,531.6 L211.8,532.1 L212.8,532.7 L213.8,533.2 L214.8,533.6 L215.8,534.1 L216.8,534.5 L217.8,534.8 L218.8,535.2 L219.8,535.5 L220.8,535.7 L221.8,536.0 L222.8,536.2 L223.8,536.4 L224.8,536.6 L225.8,536.7 L226.8,536.9 L227.8,537.1 L228.7,537.3 L229.7,537.4 L230.7,537.6 L231.7,537.7 L232.7,537.9 L233.7,538.0 L234.7,538.1 L235.7,538.2 L236.7,538.3 L237.7,538.3 L238.7,538.4 L239.7,538.4 L240.7,538.4"/>
<rect class="k" x="53.4" y="73" width="540.5" height="483.3"/>
<path class="k" d="M73.5,556.3V576M173.5,556.3V576M273.5,556.3V576M373.6,556.3V576M473.6,556.3V576M573.6,556.3V576"/>
<text class="a" x="73.7" y="625">0.0</text>
<text class="a" x="173.7" y="625">0.2</text>
<text class="a" x="273.7" y="625">0.4</text>
<text class="a" x="373.8" y="625">0.6</text>
<text class="a" x="473.8" y="625">0.8</text>
<text class="a" x="573.8" y="625">1.0</text>
<text class="t" x="322.3" y="28">Invertebrate-only , state 2</text>
<text class="p" x="2.8" y="93.3">h</text>
<text class="a" transform="translate(27.3,313.6) rotate(-90)">Density</text>
<path class="c" stroke="#2e2e2e" d="M287.9,99.7H326.9"/>
<text class="l" x="346.8" y="107.7">Substrate</text>
<path class="c" stroke="#22C7B8" d="M287.9,126.1H326.9"/>
<text class="l" x="346.8" y="134.1">Acorn barnacles</text>
<path class="c" stroke="#3B90E8" d="M287.9,152.6H326.9"/>
<text class="l" x="346.8" y="160.6">Gooseneck barnacles</text>
<path class="c" stroke="#83656A" d="M287.9,179.0H326.9"/>
<text class="l" x="346.8" y="187.0">Crustose fleshy algae</text>
<path class="c" stroke="#EBA0B2" d="M287.9,205.4H326.9"/>
<text class="l" x="346.8" y="213.4">Crustose coralline algae</text>
<path class="c" stroke="#3F55C8" d="M287.9,231.9H326.9"/>
<text class="l" x="346.8" y="239.9">Mussels</text>
<text class="a" x="322.8" y="661.1">Conditional probability</text>
</g>
</svg></body></html>
